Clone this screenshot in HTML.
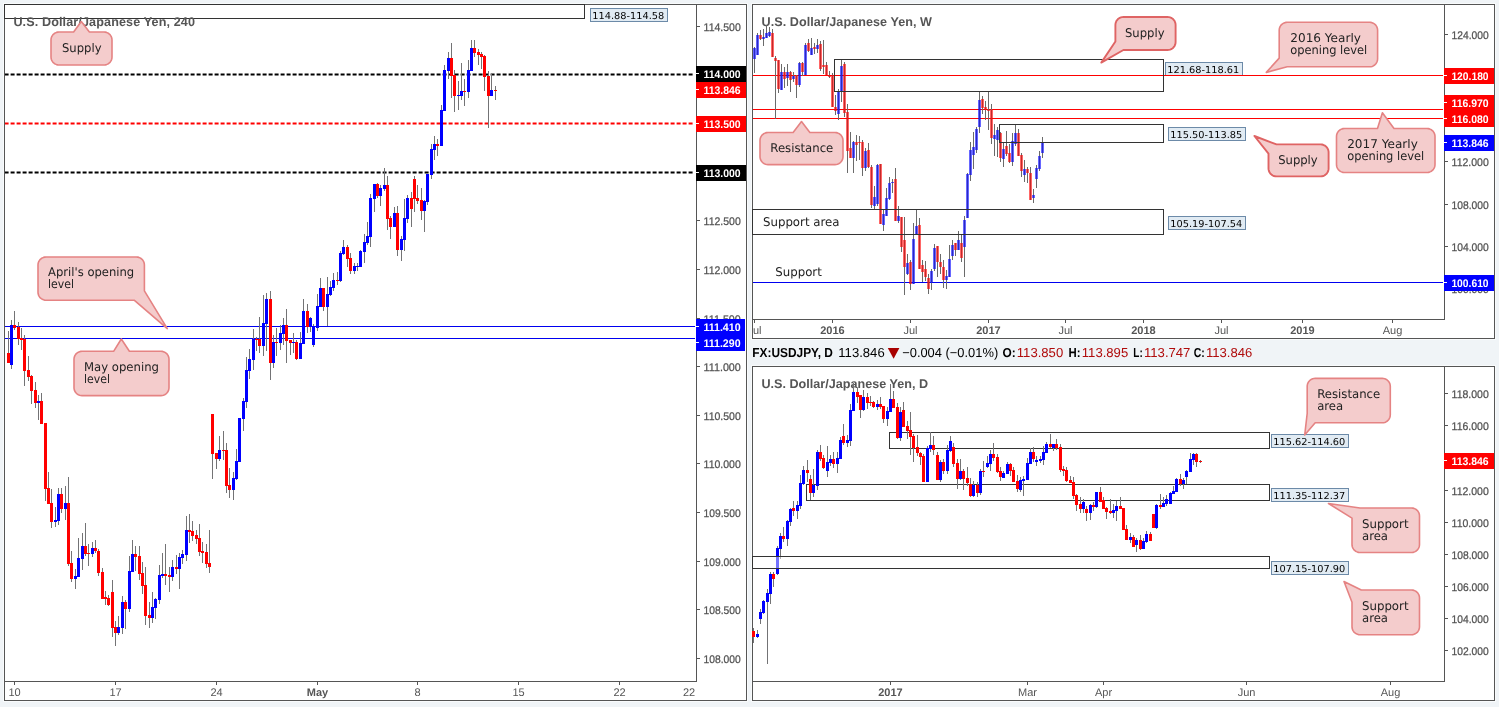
<!DOCTYPE html>
<html lang="en">
<head>
<meta charset="utf-8">
<title>USD/JPY multi-timeframe chart</title>
<style>
html,body{margin:0;padding:0;background:#f0f4f7;}
body{width:1499px;height:707px;overflow:hidden;font-family:"Liberation Sans",Arial,sans-serif;}
svg{display:block;}
</style>
</head>
<body>
<svg width="1499" height="707" viewBox="0 0 1499 707" shape-rendering="crispEdges" text-rendering="geometricPrecision">
<rect x="0" y="0" width="1499" height="707" fill="#f0f4f7"/>
<rect x="3" y="3" width="745" height="699" fill="#f9fbfc" stroke="none" stroke-width="1"/>
<rect x="4.5" y="4.5" width="742" height="696" fill="#ffffff" stroke="#555555" stroke-width="1"/>
<line x1="696.5" y1="4" x2="696.5" y2="682" stroke="#555555" stroke-width="1"/>
<line x1="4" y1="681.5" x2="697" y2="681.5" stroke="#555555" stroke-width="1"/>
<rect x="697" y="26" width="3" height="1" fill="#555555" stroke="none" stroke-width="1"/>
<text x="703.6" y="30.5" font-family='"Liberation Sans", Arial, sans-serif' font-size="11" font-weight="normal" fill="#505050" text-anchor="start" textLength="37.2" lengthAdjust="spacingAndGlyphs" stroke="#555" stroke-width="0.25">114.500</text>
<rect x="697" y="75" width="3" height="1" fill="#555555" stroke="none" stroke-width="1"/>
<text x="703.6" y="79.5" font-family='"Liberation Sans", Arial, sans-serif' font-size="11" font-weight="normal" fill="#505050" text-anchor="start" textLength="37.2" lengthAdjust="spacingAndGlyphs" stroke="#555" stroke-width="0.25">114.000</text>
<rect x="697" y="123" width="3" height="1" fill="#555555" stroke="none" stroke-width="1"/>
<text x="703.6" y="127.5" font-family='"Liberation Sans", Arial, sans-serif' font-size="11" font-weight="normal" fill="#505050" text-anchor="start" textLength="37.2" lengthAdjust="spacingAndGlyphs" stroke="#555" stroke-width="0.25">113.500</text>
<rect x="697" y="172" width="3" height="1" fill="#555555" stroke="none" stroke-width="1"/>
<text x="703.6" y="176.5" font-family='"Liberation Sans", Arial, sans-serif' font-size="11" font-weight="normal" fill="#505050" text-anchor="start" textLength="37.2" lengthAdjust="spacingAndGlyphs" stroke="#555" stroke-width="0.25">113.000</text>
<rect x="697" y="220" width="3" height="1" fill="#555555" stroke="none" stroke-width="1"/>
<text x="703.6" y="224.5" font-family='"Liberation Sans", Arial, sans-serif' font-size="11" font-weight="normal" fill="#505050" text-anchor="start" textLength="37.2" lengthAdjust="spacingAndGlyphs" stroke="#555" stroke-width="0.25">112.500</text>
<rect x="697" y="269" width="3" height="1" fill="#555555" stroke="none" stroke-width="1"/>
<text x="703.6" y="273.5" font-family='"Liberation Sans", Arial, sans-serif' font-size="11" font-weight="normal" fill="#505050" text-anchor="start" textLength="37.2" lengthAdjust="spacingAndGlyphs" stroke="#555" stroke-width="0.25">112.000</text>
<rect x="697" y="318" width="3" height="1" fill="#555555" stroke="none" stroke-width="1"/>
<text x="703.6" y="322.5" font-family='"Liberation Sans", Arial, sans-serif' font-size="11" font-weight="normal" fill="#505050" text-anchor="start" textLength="37.2" lengthAdjust="spacingAndGlyphs" stroke="#555" stroke-width="0.25">111.500</text>
<rect x="697" y="366" width="3" height="1" fill="#555555" stroke="none" stroke-width="1"/>
<text x="703.6" y="370.5" font-family='"Liberation Sans", Arial, sans-serif' font-size="11" font-weight="normal" fill="#505050" text-anchor="start" textLength="37.2" lengthAdjust="spacingAndGlyphs" stroke="#555" stroke-width="0.25">111.000</text>
<rect x="697" y="415" width="3" height="1" fill="#555555" stroke="none" stroke-width="1"/>
<text x="703.6" y="419.5" font-family='"Liberation Sans", Arial, sans-serif' font-size="11" font-weight="normal" fill="#505050" text-anchor="start" textLength="37.2" lengthAdjust="spacingAndGlyphs" stroke="#555" stroke-width="0.25">110.500</text>
<rect x="697" y="463" width="3" height="1" fill="#555555" stroke="none" stroke-width="1"/>
<text x="703.6" y="467.5" font-family='"Liberation Sans", Arial, sans-serif' font-size="11" font-weight="normal" fill="#505050" text-anchor="start" textLength="37.2" lengthAdjust="spacingAndGlyphs" stroke="#555" stroke-width="0.25">110.000</text>
<rect x="697" y="512" width="3" height="1" fill="#555555" stroke="none" stroke-width="1"/>
<text x="703.6" y="516.5" font-family='"Liberation Sans", Arial, sans-serif' font-size="11" font-weight="normal" fill="#505050" text-anchor="start" textLength="37.2" lengthAdjust="spacingAndGlyphs" stroke="#555" stroke-width="0.25">109.500</text>
<rect x="697" y="561" width="3" height="1" fill="#555555" stroke="none" stroke-width="1"/>
<text x="703.6" y="565.5" font-family='"Liberation Sans", Arial, sans-serif' font-size="11" font-weight="normal" fill="#505050" text-anchor="start" textLength="37.2" lengthAdjust="spacingAndGlyphs" stroke="#555" stroke-width="0.25">109.000</text>
<rect x="697" y="609" width="3" height="1" fill="#555555" stroke="none" stroke-width="1"/>
<text x="703.6" y="613.5" font-family='"Liberation Sans", Arial, sans-serif' font-size="11" font-weight="normal" fill="#505050" text-anchor="start" textLength="37.2" lengthAdjust="spacingAndGlyphs" stroke="#555" stroke-width="0.25">108.500</text>
<rect x="697" y="658" width="3" height="1" fill="#555555" stroke="none" stroke-width="1"/>
<text x="703.6" y="662.5" font-family='"Liberation Sans", Arial, sans-serif' font-size="11" font-weight="normal" fill="#505050" text-anchor="start" textLength="37.2" lengthAdjust="spacingAndGlyphs" stroke="#555" stroke-width="0.25">108.000</text>
<rect x="4.5" y="4.5" width="580" height="14" fill="none" stroke="#333" stroke-width="1"/>
<rect x="590.5" y="8.5" width="77" height="13" fill="#e1ebf3" stroke="#6c8aa8" stroke-width="1"/>
<text x="592.3" y="19.1" font-family='"DejaVu Sans", Verdana, "Liberation Sans", sans-serif' font-size="9.6" font-weight="normal" fill="#000" text-anchor="start" textLength="72.0" lengthAdjust="spacingAndGlyphs">114.88-114.58</text>
<text x="13.4" y="26.0" font-family='"Liberation Sans", Arial, sans-serif' font-size="12.6" font-weight="bold" fill="#555" text-anchor="start" textLength="181.6" lengthAdjust="spacing">U.S. Dollar/Japanese Yen, 240</text>
<line x1="5" y1="74.4" x2="693" y2="74.4" stroke="#000" stroke-width="2" stroke-dasharray="4,2" stroke-dashoffset="0.4" shape-rendering="geometricPrecision"/>
<line x1="5" y1="123.4" x2="693" y2="123.4" stroke="#ff0000" stroke-width="2" stroke-dasharray="4,2" stroke-dashoffset="0.4" shape-rendering="geometricPrecision"/>
<line x1="5" y1="172.4" x2="693" y2="172.4" stroke="#000" stroke-width="2" stroke-dasharray="4,2" stroke-dashoffset="0.4" shape-rendering="geometricPrecision"/>
<rect x="5" y="326" width="690" height="1" fill="#0000f0" stroke="none" stroke-width="1"/>
<rect x="5" y="338" width="690" height="1" fill="#0000f0" stroke="none" stroke-width="1"/>
<path d="M8.5,331V363M11.5,320V369M14.5,311V330M18.5,322V345M21.5,328V350M24.5,335V386M28.5,356V381M31.5,375V404M35.5,382V408M38.5,395V420M41.5,393V424M45.5,423V501M48.5,472V504M51.5,489V528M55.5,507V527M58.5,488V525M61.5,488V513M65.5,486V520M68.5,477V566M71.5,551V582M75.5,569V589M78.5,538V577M82.5,533V570M85.5,523V556M88.5,544V566M92.5,542V557M95.5,540V553M98.5,549V576M102.5,568V599M105.5,591V605M108.5,595V606M112.5,580V637M115.5,621V646M118.5,616V635M122.5,596V634M125.5,600V629M129.5,556V612M132.5,540V572M135.5,546V571M139.5,546V580M142.5,562V594M145.5,567V625M149.5,602V628M152.5,592V623M155.5,598V619M159.5,565V604M162.5,553V578M165.5,544V585M169.5,567V592M172.5,560V581M176.5,555V574M179.5,553V589M182.5,550V564M186.5,516V561M189.5,514V543M192.5,521V541M196.5,530V544M199.5,524V556M202.5,542V563M206.5,544V568M209.5,530V573M212.5,414V479M216.5,453V469M219.5,436V461M223.5,431V460M226.5,443V493M229.5,468V498M233.5,472V500M236.5,449V480M239.5,418V462M243.5,398V431M246.5,357V408M249.5,349V379M253.5,329V370M256.5,337V351M259.5,317V353M263.5,295V356M266.5,293V351M270.5,291V380M273.5,335V368M276.5,328V356M280.5,325V350M283.5,318V345M286.5,309V363M290.5,340V355M293.5,333V353M296.5,340V360M300.5,332V359M303.5,299V344M307.5,304V333M310.5,317V332M313.5,324V347M317.5,294V331M320.5,278V307M323.5,288V311M327.5,277V326M330.5,281V296M333.5,273V291M337.5,272V285M340.5,251V282M343.5,240V255M347.5,245V267M350.5,253V274M354.5,263V274M357.5,263V271M360.5,250V267M364.5,234V263M367.5,222V245M370.5,194V247M374.5,184V212M377.5,183V198M380.5,185V206M384.5,168V191M387.5,176V230M390.5,216V239M394.5,207V227M397.5,206V256M401.5,236V261M404.5,199V251M407.5,195V223M411.5,192V227M414.5,176V212M417.5,185V204M421.5,188V220M424.5,200V232M427.5,174V205M431.5,144V179M434.5,136V160M437.5,139V156M441.5,105V146M444.5,65V111M448.5,52V79M451.5,43V98M454.5,70V112M458.5,81V110M461.5,63V100M464.5,79V106M468.5,60V98M471.5,40V71M474.5,40V57M478.5,49V65M481.5,52V69M484.5,55V91M488.5,71V128M491.5,74V96M495.5,86V100" stroke="#737375" stroke-width="1" fill="none"/>
<path d="M10,325h3V365h-3ZM37,401h3V403h-3ZM54,520h3V522h-3ZM57,494h3V521h-3ZM64,503h3V509h-3ZM74,576h3V579h-3ZM77,558h3V577h-3ZM81,546h3V559h-3ZM91,548h3V554h-3ZM117,627h3V633h-3ZM121,602h3V628h-3ZM128,571h3V609h-3ZM131,554h3V572h-3ZM151,607h3V618h-3ZM154,599h3V608h-3ZM158,575h3V600h-3ZM161,574h3V576h-3ZM171,567h3V577h-3ZM178,557h3V569h-3ZM181,554h3V558h-3ZM185,530h3V555h-3ZM218,450h3V459h-3ZM232,478h3V490h-3ZM235,461h3V479h-3ZM238,418h3V462h-3ZM242,401h3V419h-3ZM245,370h3V402h-3ZM248,359h3V371h-3ZM252,339h3V360h-3ZM262,323h3V346h-3ZM265,299h3V324h-3ZM272,342h3V363h-3ZM279,333h3V343h-3ZM282,325h3V334h-3ZM292,342h3V343h-3ZM299,343h3V359h-3ZM302,311h3V344h-3ZM309,318h3V327h-3ZM312,326h3V345h-3ZM316,306h3V328h-3ZM319,288h3V307h-3ZM326,294h3V307h-3ZM329,287h3V295h-3ZM332,280h3V288h-3ZM339,253h3V281h-3ZM342,247h3V254h-3ZM353,266h3V271h-3ZM356,266h3V267h-3ZM359,251h3V267h-3ZM363,242h3V252h-3ZM366,236h3V243h-3ZM369,198h3V237h-3ZM373,184h3V199h-3ZM379,188h3V196h-3ZM383,185h3V189h-3ZM393,213h3V227h-3ZM400,239h3V250h-3ZM403,218h3V240h-3ZM406,198h3V219h-3ZM423,201h3V211h-3ZM426,174h3V202h-3ZM430,149h3V175h-3ZM433,144h3V150h-3ZM440,110h3V146h-3ZM443,70h3V111h-3ZM447,58h3V71h-3ZM457,95h3V96h-3ZM460,91h3V96h-3ZM467,70h3V92h-3ZM470,48h3V71h-3ZM490,90h3V96h-3Z" fill="#0000ff"/>
<path d="M7,353h3V363h-3ZM13,325h3V328h-3ZM17,327h3V339h-3ZM20,338h3V340h-3ZM23,339h3V371h-3ZM27,370h3V377h-3ZM30,376h3V391h-3ZM34,390h3V403h-3ZM40,401h3V424h-3ZM44,423h3V489h-3ZM47,488h3V504h-3ZM50,503h3V522h-3ZM60,494h3V509h-3ZM67,503h3V564h-3ZM70,563h3V579h-3ZM84,546h3V554h-3ZM87,553h3V554h-3ZM94,548h3V551h-3ZM97,551h3V573h-3ZM101,572h3V599h-3ZM104,597h3V599h-3ZM107,598h3V605h-3ZM111,592h3V628h-3ZM114,627h3V633h-3ZM124,602h3V609h-3ZM134,554h3V557h-3ZM138,556h3V574h-3ZM141,573h3V586h-3ZM144,585h3V616h-3ZM148,615h3V618h-3ZM164,574h3V576h-3ZM168,575h3V577h-3ZM175,567h3V569h-3ZM188,530h3V532h-3ZM191,531h3V536h-3ZM195,535h3V539h-3ZM198,538h3V552h-3ZM201,551h3V553h-3ZM205,552h3V564h-3ZM208,563h3V567h-3ZM211,414h3V454h-3ZM215,453h3V459h-3ZM222,450h3V451h-3ZM225,450h3V486h-3ZM228,485h3V490h-3ZM255,339h3V340h-3ZM258,339h3V346h-3ZM269,299h3V363h-3ZM275,342h3V343h-3ZM285,325h3V341h-3ZM289,340h3V343h-3ZM295,342h3V359h-3ZM306,311h3V327h-3ZM322,288h3V307h-3ZM336,280h3V281h-3ZM346,247h3V259h-3ZM349,258h3V271h-3ZM376,184h3V196h-3ZM386,185h3V219h-3ZM389,218h3V227h-3ZM396,213h3V250h-3ZM410,198h3V209h-3ZM413,179h3V199h-3ZM416,198h3V201h-3ZM420,200h3V211h-3ZM436,144h3V146h-3ZM450,58h3V76h-3ZM453,75h3V96h-3ZM463,91h3V92h-3ZM473,48h3V53h-3ZM477,52h3V55h-3ZM480,54h3V57h-3ZM483,56h3V77h-3ZM487,76h3V96h-3ZM494,90h3V91h-3Z" fill="#ff0000"/>
<rect x="696" y="66" width="50" height="16" fill="#000" stroke="none" stroke-width="1"/>
<rect x="696" y="73" width="3" height="1" fill="#fff" stroke="none" stroke-width="1"/>
<text x="703.4" y="77.5" font-family='"Liberation Sans", Arial, sans-serif' font-size="11" font-weight="bold" fill="#fff" text-anchor="start" textLength="37.2" lengthAdjust="spacingAndGlyphs">114.000</text>
<rect x="696" y="82" width="50" height="16" fill="#ff0000" stroke="none" stroke-width="1"/>
<rect x="696" y="89" width="3" height="1" fill="#fff" stroke="none" stroke-width="1"/>
<text x="703.4" y="93.5" font-family='"Liberation Sans", Arial, sans-serif' font-size="11" font-weight="bold" fill="#fff" text-anchor="start" textLength="37.2" lengthAdjust="spacingAndGlyphs">113.846</text>
<rect x="696" y="116" width="50" height="16" fill="#ff0000" stroke="none" stroke-width="1"/>
<rect x="696" y="123" width="3" height="1" fill="#fff" stroke="none" stroke-width="1"/>
<text x="703.4" y="127.5" font-family='"Liberation Sans", Arial, sans-serif' font-size="11" font-weight="bold" fill="#fff" text-anchor="start" textLength="37.2" lengthAdjust="spacingAndGlyphs">113.500</text>
<rect x="696" y="165" width="50" height="16" fill="#000" stroke="none" stroke-width="1"/>
<rect x="696" y="172" width="3" height="1" fill="#fff" stroke="none" stroke-width="1"/>
<text x="703.4" y="176.5" font-family='"Liberation Sans", Arial, sans-serif' font-size="11" font-weight="bold" fill="#fff" text-anchor="start" textLength="37.2" lengthAdjust="spacingAndGlyphs">113.000</text>
<rect x="696" y="319" width="49" height="16" fill="#0000ff" stroke="none" stroke-width="1"/>
<rect x="696" y="326" width="3" height="1" fill="#fff" stroke="none" stroke-width="1"/>
<text x="703.4" y="330.5" font-family='"Liberation Sans", Arial, sans-serif' font-size="11" font-weight="bold" fill="#fff" text-anchor="start" textLength="37.2" lengthAdjust="spacingAndGlyphs">111.410</text>
<rect x="696" y="335" width="49" height="16" fill="#0000ff" stroke="none" stroke-width="1"/>
<rect x="696" y="342" width="3" height="1" fill="#fff" stroke="none" stroke-width="1"/>
<text x="703.4" y="346.5" font-family='"Liberation Sans", Arial, sans-serif' font-size="11" font-weight="bold" fill="#fff" text-anchor="start" textLength="37.2" lengthAdjust="spacingAndGlyphs">111.290</text>
<rect x="14" y="682" width="1" height="3" fill="#555555" stroke="none" stroke-width="1"/>
<text x="14.5" y="696.0" font-family='"Liberation Sans", Arial, sans-serif' font-size="11" font-weight="normal" fill="#555" text-anchor="middle">10</text>
<rect x="115" y="682" width="1" height="3" fill="#555555" stroke="none" stroke-width="1"/>
<text x="115.5" y="696.0" font-family='"Liberation Sans", Arial, sans-serif' font-size="11" font-weight="normal" fill="#555" text-anchor="middle">17</text>
<rect x="216" y="682" width="1" height="3" fill="#555555" stroke="none" stroke-width="1"/>
<text x="216.5" y="696.0" font-family='"Liberation Sans", Arial, sans-serif' font-size="11" font-weight="normal" fill="#555" text-anchor="middle">24</text>
<rect x="317" y="682" width="1" height="3" fill="#555555" stroke="none" stroke-width="1"/>
<text x="317.5" y="696.0" font-family='"Liberation Sans", Arial, sans-serif' font-size="11" font-weight="bold" fill="#555" text-anchor="middle">May</text>
<rect x="417" y="682" width="1" height="3" fill="#555555" stroke="none" stroke-width="1"/>
<text x="417.5" y="696.0" font-family='"Liberation Sans", Arial, sans-serif' font-size="11" font-weight="normal" fill="#555" text-anchor="middle">8</text>
<rect x="518" y="682" width="1" height="3" fill="#555555" stroke="none" stroke-width="1"/>
<text x="518.5" y="696.0" font-family='"Liberation Sans", Arial, sans-serif' font-size="11" font-weight="normal" fill="#555" text-anchor="middle">15</text>
<rect x="619" y="682" width="1" height="3" fill="#555555" stroke="none" stroke-width="1"/>
<text x="619.5" y="696.0" font-family='"Liberation Sans", Arial, sans-serif' font-size="11" font-weight="normal" fill="#555" text-anchor="middle">22</text>
<text x="689.0" y="696.0" font-family='"Liberation Sans", Arial, sans-serif' font-size="11" font-weight="normal" fill="#555" text-anchor="middle">22</text>
<path d="M89.38,32.00 L90.50,32.00 L91.62,32.00 L92.75,32.00 L93.88,32.00 L95.00,32.00 L96.12,32.00 L97.25,32.00 L98.38,32.00 L99.50,32.00 L100.62,32.00 L101.75,32.00 L102.88,32.00 L104.00,32.00 L105.25,32.10 L106.47,32.39 L107.63,32.87 L108.70,33.53 L109.66,34.34 L110.47,35.30 L111.13,36.37 L111.61,37.53 L111.90,38.75 L112.00,40.00 L112.00,40.42 L112.00,40.85 L112.00,41.27 L112.00,41.70 L112.00,42.12 L112.00,42.55 L112.00,42.98 L112.00,43.40 L112.00,43.83 L112.00,44.25 L112.00,44.67 L112.00,45.10 L112.00,45.52 L112.00,45.95 L112.00,46.38 L112.00,46.80 L112.00,47.23 L112.00,47.65 L112.00,48.08 L112.00,48.50 L112.00,48.92 L112.00,49.35 L112.00,49.77 L112.00,50.20 L112.00,50.62 L112.00,51.05 L112.00,51.48 L112.00,51.90 L112.00,52.33 L112.00,52.75 L112.00,53.17 L112.00,53.60 L112.00,54.02 L112.00,54.45 L112.00,54.88 L112.00,55.30 L112.00,55.73 L112.00,56.15 L112.00,56.58 L112.00,57.00 L111.90,58.25 L111.61,59.47 L111.13,60.63 L110.47,61.70 L109.66,62.66 L108.70,63.47 L107.63,64.13 L106.47,64.61 L105.25,64.90 L104.00,65.00 L102.88,65.00 L101.75,65.00 L100.62,65.00 L99.50,65.00 L98.38,65.00 L97.25,65.00 L96.12,65.00 L95.00,65.00 L93.88,65.00 L92.75,65.00 L91.62,65.00 L90.50,65.00 L89.38,65.00 L88.25,65.00 L87.12,65.00 L86.00,65.00 L84.88,65.00 L83.75,65.00 L82.62,65.00 L81.50,65.00 L80.38,65.00 L79.25,65.00 L78.12,65.00 L77.00,65.00 L75.88,65.00 L74.75,65.00 L73.62,65.00 L72.50,65.00 L71.38,65.00 L70.25,65.00 L69.12,65.00 L68.00,65.00 L66.88,65.00 L65.75,65.00 L64.62,65.00 L63.50,65.00 L62.38,65.00 L61.25,65.00 L60.12,65.00 L59.00,65.00 L57.75,64.90 L56.53,64.61 L55.37,64.13 L54.30,63.47 L53.34,62.66 L52.53,61.70 L51.87,60.63 L51.39,59.47 L51.10,58.25 L51.00,57.00 L51.00,56.58 L51.00,56.15 L51.00,55.73 L51.00,55.30 L51.00,54.88 L51.00,54.45 L51.00,54.02 L51.00,53.60 L51.00,53.17 L51.00,52.75 L51.00,52.33 L51.00,51.90 L51.00,51.48 L51.00,51.05 L51.00,50.62 L51.00,50.20 L51.00,49.77 L51.00,49.35 L51.00,48.92 L51.00,48.50 L51.00,48.08 L51.00,47.65 L51.00,47.23 L51.00,46.80 L51.00,46.38 L51.00,45.95 L51.00,45.52 L51.00,45.10 L51.00,44.67 L51.00,44.25 L51.00,43.83 L51.00,43.40 L51.00,42.98 L51.00,42.55 L51.00,42.12 L51.00,41.70 L51.00,41.27 L51.00,40.85 L51.00,40.42 L51.00,40.00 L51.10,38.75 L51.39,37.53 L51.87,36.37 L52.53,35.30 L53.34,34.34 L54.30,33.53 L55.37,32.87 L56.53,32.39 L57.75,32.10 L59.00,32.00 L60.12,32.00 L61.25,32.00 L62.38,32.00 L63.50,32.00 L64.62,32.00 L65.75,32.00 L66.88,32.00 L68.00,32.00 L69.12,32.00 L70.25,32.00 L71.38,32.00 L72.50,32.00 L73.62,32.00 L81.30,21.50 Z" fill="#f4cccc" stroke="#e58383" stroke-width="1.6" stroke-linejoin="round" shape-rendering="geometricPrecision"/>
<text x="62.0" y="51.6" font-family='"DejaVu Sans", Verdana, "Liberation Sans", sans-serif' font-size="12" font-weight="normal" fill="#222" text-anchor="start" textLength="39.5" lengthAdjust="spacingAndGlyphs">Supply</text>
<path d="M134.14,300.20 L131.88,300.20 L129.62,300.20 L127.36,300.20 L125.10,300.20 L122.84,300.20 L120.58,300.20 L118.32,300.20 L116.06,300.20 L113.80,300.20 L111.54,300.20 L109.28,300.20 L107.02,300.20 L104.76,300.20 L102.50,300.20 L100.24,300.20 L97.98,300.20 L95.72,300.20 L93.46,300.20 L91.20,300.20 L88.94,300.20 L86.68,300.20 L84.42,300.20 L82.16,300.20 L79.90,300.20 L77.64,300.20 L75.38,300.20 L73.12,300.20 L70.86,300.20 L68.60,300.20 L66.34,300.20 L64.08,300.20 L61.82,300.20 L59.56,300.20 L57.30,300.20 L55.04,300.20 L52.78,300.20 L50.52,300.20 L48.26,300.20 L46.00,300.20 L44.75,300.10 L43.53,299.81 L42.37,299.33 L41.30,298.67 L40.34,297.86 L39.53,296.90 L38.87,295.83 L38.39,294.67 L38.10,293.45 L38.00,292.20 L38.00,291.52 L38.00,290.84 L38.00,290.16 L38.00,289.48 L38.00,288.80 L38.00,288.12 L38.00,287.44 L38.00,286.76 L38.00,286.08 L38.00,285.40 L38.00,284.72 L38.00,284.04 L38.00,283.36 L38.00,282.68 L38.00,282.00 L38.00,281.32 L38.00,280.64 L38.00,279.96 L38.00,279.28 L38.00,278.60 L38.00,277.92 L38.00,277.24 L38.00,276.56 L38.00,275.88 L38.00,275.20 L38.00,274.52 L38.00,273.84 L38.00,273.16 L38.00,272.48 L38.00,271.80 L38.00,271.12 L38.00,270.44 L38.00,269.76 L38.00,269.08 L38.00,268.40 L38.00,267.72 L38.00,267.04 L38.00,266.36 L38.00,265.68 L38.00,265.00 L38.10,263.75 L38.39,262.53 L38.87,261.37 L39.53,260.30 L40.34,259.34 L41.30,258.53 L42.37,257.87 L43.53,257.39 L44.75,257.10 L46.00,257.00 L48.26,257.00 L50.52,257.00 L52.78,257.00 L55.04,257.00 L57.30,257.00 L59.56,257.00 L61.82,257.00 L64.08,257.00 L66.34,257.00 L68.60,257.00 L70.86,257.00 L73.12,257.00 L75.38,257.00 L77.64,257.00 L79.90,257.00 L82.16,257.00 L84.42,257.00 L86.68,257.00 L88.94,257.00 L91.20,257.00 L93.46,257.00 L95.72,257.00 L97.98,257.00 L100.24,257.00 L102.50,257.00 L104.76,257.00 L107.02,257.00 L109.28,257.00 L111.54,257.00 L113.80,257.00 L116.06,257.00 L118.32,257.00 L120.58,257.00 L122.84,257.00 L125.10,257.00 L127.36,257.00 L129.62,257.00 L131.88,257.00 L134.14,257.00 L136.40,257.00 L137.65,257.10 L138.87,257.39 L140.03,257.87 L141.10,258.53 L142.06,259.34 L142.87,260.30 L143.53,261.37 L144.01,262.53 L144.30,263.75 L144.40,265.00 L144.40,265.68 L144.40,266.36 L144.40,267.04 L144.40,267.72 L144.40,268.40 L144.40,269.08 L144.40,269.76 L144.40,270.44 L144.40,271.12 L144.40,271.80 L144.40,272.48 L144.40,273.16 L144.40,273.84 L144.40,274.52 L144.40,275.20 L144.40,275.88 L144.40,276.56 L144.40,277.24 L144.40,277.92 L144.40,278.60 L144.40,279.28 L144.40,279.96 L144.40,280.64 L144.40,281.32 L144.40,282.00 L144.40,282.68 L144.40,283.36 L144.40,284.04 L144.40,284.72 L144.40,285.40 L144.40,286.08 L144.40,286.76 L144.40,287.44 L144.40,288.12 L144.40,288.80 L144.40,289.48 L144.40,290.16 L144.40,290.84 L167.30,328.60 Z" fill="#f4cccc" stroke="#e58383" stroke-width="1.6" stroke-linejoin="round" shape-rendering="geometricPrecision"/>
<text x="48.0" y="276.0" font-family='"DejaVu Sans", Verdana, "Liberation Sans", sans-serif' font-size="12" font-weight="normal" fill="#222" text-anchor="start" textLength="86.2" lengthAdjust="spacingAndGlyphs">April's opening</text>
<text x="48.0" y="288.0" font-family='"DejaVu Sans", Verdana, "Liberation Sans", sans-serif' font-size="12" font-weight="normal" fill="#222" text-anchor="start" textLength="26.0" lengthAdjust="spacingAndGlyphs">level</text>
<path d="M129.40,351.30 L131.38,351.30 L133.35,351.30 L135.32,351.30 L137.30,351.30 L139.28,351.30 L141.25,351.30 L143.22,351.30 L145.20,351.30 L147.18,351.30 L149.15,351.30 L151.12,351.30 L153.10,351.30 L155.07,351.30 L157.05,351.30 L159.03,351.30 L161.00,351.30 L162.25,351.40 L163.47,351.69 L164.63,352.17 L165.70,352.83 L166.66,353.64 L167.47,354.60 L168.13,355.67 L168.61,356.83 L168.90,358.05 L169.00,359.30 L169.00,360.01 L169.00,360.72 L169.00,361.42 L169.00,362.13 L169.00,362.84 L169.00,363.55 L169.00,364.25 L169.00,364.96 L169.00,365.67 L169.00,366.38 L169.00,367.08 L169.00,367.79 L169.00,368.50 L169.00,369.21 L169.00,369.91 L169.00,370.62 L169.00,371.33 L169.00,372.04 L169.00,372.74 L169.00,373.45 L169.00,374.16 L169.00,374.87 L169.00,375.57 L169.00,376.28 L169.00,376.99 L169.00,377.69 L169.00,378.40 L169.00,379.11 L169.00,379.82 L169.00,380.53 L169.00,381.23 L169.00,381.94 L169.00,382.65 L169.00,383.36 L169.00,384.06 L169.00,384.77 L169.00,385.48 L169.00,386.19 L169.00,386.89 L169.00,387.60 L168.90,388.85 L168.61,390.07 L168.13,391.23 L167.47,392.30 L166.66,393.26 L165.70,394.07 L164.63,394.73 L163.47,395.21 L162.25,395.50 L161.00,395.60 L159.03,395.60 L157.05,395.60 L155.07,395.60 L153.10,395.60 L151.12,395.60 L149.15,395.60 L147.18,395.60 L145.20,395.60 L143.22,395.60 L141.25,395.60 L139.28,395.60 L137.30,395.60 L135.32,395.60 L133.35,395.60 L131.38,395.60 L129.40,395.60 L127.42,395.60 L125.45,395.60 L123.47,395.60 L121.50,395.60 L119.53,395.60 L117.55,395.60 L115.58,395.60 L113.60,395.60 L111.62,395.60 L109.65,395.60 L107.67,395.60 L105.70,395.60 L103.72,395.60 L101.75,395.60 L99.78,395.60 L97.80,395.60 L95.83,395.60 L93.85,395.60 L91.88,395.60 L89.90,395.60 L87.92,395.60 L85.95,395.60 L83.97,395.60 L82.00,395.60 L80.75,395.50 L79.53,395.21 L78.37,394.73 L77.30,394.07 L76.34,393.26 L75.53,392.30 L74.87,391.23 L74.39,390.07 L74.10,388.85 L74.00,387.60 L74.00,386.89 L74.00,386.19 L74.00,385.48 L74.00,384.77 L74.00,384.06 L74.00,383.36 L74.00,382.65 L74.00,381.94 L74.00,381.23 L74.00,380.53 L74.00,379.82 L74.00,379.11 L74.00,378.40 L74.00,377.69 L74.00,376.99 L74.00,376.28 L74.00,375.57 L74.00,374.87 L74.00,374.16 L74.00,373.45 L74.00,372.74 L74.00,372.04 L74.00,371.33 L74.00,370.62 L74.00,369.91 L74.00,369.21 L74.00,368.50 L74.00,367.79 L74.00,367.08 L74.00,366.38 L74.00,365.67 L74.00,364.96 L74.00,364.25 L74.00,363.55 L74.00,362.84 L74.00,362.13 L74.00,361.42 L74.00,360.72 L74.00,360.01 L74.00,359.30 L74.10,358.05 L74.39,356.83 L74.87,355.67 L75.53,354.60 L76.34,353.64 L77.30,352.83 L78.37,352.17 L79.53,351.69 L80.75,351.40 L82.00,351.30 L83.97,351.30 L85.95,351.30 L87.92,351.30 L89.90,351.30 L91.88,351.30 L93.85,351.30 L95.83,351.30 L97.80,351.30 L99.78,351.30 L101.75,351.30 L103.72,351.30 L105.70,351.30 L107.67,351.30 L109.65,351.30 L111.62,351.30 L113.60,351.30 L121.30,339.00 Z" fill="#f4cccc" stroke="#e58383" stroke-width="1.6" stroke-linejoin="round" shape-rendering="geometricPrecision"/>
<text x="84.0" y="371.0" font-family='"DejaVu Sans", Verdana, "Liberation Sans", sans-serif' font-size="12" font-weight="normal" fill="#222" text-anchor="start" textLength="75.0" lengthAdjust="spacingAndGlyphs">May opening</text>
<text x="84.0" y="383.0" font-family='"DejaVu Sans", Verdana, "Liberation Sans", sans-serif' font-size="12" font-weight="normal" fill="#222" text-anchor="start" textLength="26.0" lengthAdjust="spacingAndGlyphs">level</text>
<rect x="751" y="3" width="745" height="337" fill="#f9fbfc" stroke="none" stroke-width="1"/>
<rect x="752.5" y="4.5" width="742" height="334" fill="#ffffff" stroke="#555555" stroke-width="1"/>
<line x1="1444.5" y1="4" x2="1444.5" y2="320" stroke="#555555" stroke-width="1"/>
<line x1="752" y1="319.5" x2="1445" y2="319.5" stroke="#555555" stroke-width="1"/>
<rect x="1445" y="34" width="3" height="1" fill="#555555" stroke="none" stroke-width="1"/>
<text x="1451.6" y="38.5" font-family='"Liberation Sans", Arial, sans-serif' font-size="11" font-weight="normal" fill="#505050" text-anchor="start" textLength="37.2" lengthAdjust="spacingAndGlyphs" stroke="#555" stroke-width="0.25">124.000</text>
<rect x="1445" y="161" width="3" height="1" fill="#555555" stroke="none" stroke-width="1"/>
<text x="1451.6" y="165.5" font-family='"Liberation Sans", Arial, sans-serif' font-size="11" font-weight="normal" fill="#505050" text-anchor="start" textLength="37.2" lengthAdjust="spacingAndGlyphs" stroke="#555" stroke-width="0.25">112.000</text>
<rect x="1445" y="204" width="3" height="1" fill="#555555" stroke="none" stroke-width="1"/>
<text x="1451.6" y="208.5" font-family='"Liberation Sans", Arial, sans-serif' font-size="11" font-weight="normal" fill="#505050" text-anchor="start" textLength="37.2" lengthAdjust="spacingAndGlyphs" stroke="#555" stroke-width="0.25">108.000</text>
<rect x="1445" y="246" width="3" height="1" fill="#555555" stroke="none" stroke-width="1"/>
<text x="1451.6" y="250.5" font-family='"Liberation Sans", Arial, sans-serif' font-size="11" font-weight="normal" fill="#505050" text-anchor="start" textLength="37.2" lengthAdjust="spacingAndGlyphs" stroke="#555" stroke-width="0.25">104.000</text>
<rect x="1445" y="288" width="3" height="1" fill="#555555" stroke="none" stroke-width="1"/>
<text x="1451.6" y="292.5" font-family='"Liberation Sans", Arial, sans-serif' font-size="11" font-weight="normal" fill="#505050" text-anchor="start" textLength="37.2" lengthAdjust="spacingAndGlyphs" stroke="#555" stroke-width="0.25">100.000</text>
<text x="761.5" y="26.0" font-family='"Liberation Sans", Arial, sans-serif' font-size="12.6" font-weight="bold" fill="#555" text-anchor="start" textLength="170.5" lengthAdjust="spacing">U.S. Dollar/Japanese Yen, W</text>
<rect x="1165.5" y="62.5" width="77" height="13" fill="#e1ebf3" stroke="#6c8aa8" stroke-width="1"/>
<text x="1167.3" y="73.1" font-family='"DejaVu Sans", Verdana, "Liberation Sans", sans-serif' font-size="9.6" font-weight="normal" fill="#000" text-anchor="start" textLength="72.0" lengthAdjust="spacingAndGlyphs">121.68-118.61</text>
<rect x="753" y="75" width="690" height="1" fill="#ff0000" stroke="none" stroke-width="1"/>
<rect x="753" y="109" width="690" height="1" fill="#ff0000" stroke="none" stroke-width="1"/>
<rect x="753" y="118" width="690" height="1" fill="#ff0000" stroke="none" stroke-width="1"/>
<rect x="753" y="282" width="690" height="1" fill="#0000f0" stroke="none" stroke-width="1"/>
<path d="M754.5,47V73M757.5,33V55M760.5,30V40M763.5,29V46M766.5,25V38M769.5,27V37M772.5,29V57M775.5,56V119M778.5,60V93M781.5,64V90M784.5,67V88M787.5,64V86M790.5,71V92M793.5,72V82M796.5,75V98M799.5,62V87M802.5,62V76M805.5,43V75M808.5,39V52M811.5,38V55M814.5,43V54M817.5,39V53M820.5,41V71M823.5,40V74M826.5,62V75M829.5,71V78M832.5,73V107M835.5,95V115M838.5,89V120M841.5,60V102M844.5,62V117M847.5,104V173M850.5,132V158M853.5,141V173M856.5,135V161M859.5,136V160M862.5,140V176M865.5,148V171M868.5,143V168M871.5,165V208M874.5,186V209M877.5,164V206M880.5,164V224M883.5,210V231M886.5,188V216M889.5,177V200M892.5,179V193M895.5,168V221M898.5,206V223M901.5,217V252M904.5,217V295M907.5,254V275M910.5,260V290M913.5,223V284M916.5,209V234M919.5,218V269M922.5,260V282M925.5,261V281M928.5,274V294M931.5,269V290M934.5,244V271M937.5,246V277M940.5,254V274M943.5,260V288M946.5,270V289M949.5,245V277M952.5,240V260M955.5,243V256M958.5,231V250M961.5,234V262M964.5,216V277M967.5,173V218M970.5,142V181M973.5,132V169M976.5,127V153M979.5,92V133M982.5,96V114M985.5,101V120M988.5,92V130M991.5,104V144M994.5,124V156M997.5,127V157M1000.5,132V162M1003.5,143V167M1006.5,131V156M1009.5,144V163M1012.5,133V166M1015.5,125V146M1018.5,129V156M1021.5,153V177M1024.5,160V182M1027.5,167V183M1030.5,167V200M1033.5,189V203M1036.5,165V188M1039.5,151V171M1042.5,137V158" stroke="#6a6a6a" stroke-width="1" fill="none"/>
<path d="M753,48h3V59h-3ZM756,35h3V55h-3ZM762,37h3V39h-3ZM765,33h3V38h-3ZM768,32h3V36h-3ZM780,72h3V90h-3ZM786,72h3V78h-3ZM792,76h3V79h-3ZM798,63h3V85h-3ZM804,45h3V75h-3ZM810,48h3V55h-3ZM816,45h3V49h-3ZM837,91h3V114h-3ZM840,66h3V92h-3ZM852,142h3V158h-3ZM864,151h3V168h-3ZM873,197h3V206h-3ZM876,165h3V204h-3ZM882,214h3V225h-3ZM885,198h3V216h-3ZM888,183h3V199h-3ZM891,182h3V183h-3ZM897,216h3V221h-3ZM906,263h3V274h-3ZM912,239h3V284h-3ZM915,226h3V234h-3ZM930,271h3V283h-3ZM933,248h3V269h-3ZM945,276h3V280h-3ZM948,259h3V277h-3ZM951,245h3V256h-3ZM957,240h3V250h-3ZM963,220h3V247h-3ZM966,174h3V218h-3ZM969,150h3V175h-3ZM972,147h3V155h-3ZM975,129h3V150h-3ZM978,100h3V127h-3ZM993,135h3V139h-3ZM996,130h3V140h-3ZM1002,149h3V159h-3ZM1011,141h3V162h-3ZM1014,133h3V144h-3ZM1023,169h3V175h-3ZM1032,195h3V198h-3ZM1035,168h3V179h-3ZM1038,156h3V169h-3ZM1041,142h3V153h-3Z" fill="#0000ff" fill-opacity="0.6"/>
<path d="M759,35h3V39h-3ZM771,33h3V57h-3ZM774,58h3V61h-3ZM777,60h3V89h-3ZM783,72h3V79h-3ZM789,72h3V80h-3ZM795,76h3V85h-3ZM801,63h3V72h-3ZM807,43h3V51h-3ZM813,47h3V49h-3ZM819,44h3V69h-3ZM822,65h3V67h-3ZM825,65h3V75h-3ZM828,75h3V77h-3ZM831,75h3V107h-3ZM834,107h3V111h-3ZM843,64h3V113h-3ZM846,112h3V151h-3ZM849,148h3V158h-3ZM855,142h3V145h-3ZM858,142h3V143h-3ZM861,142h3V168h-3ZM867,150h3V167h-3ZM870,167h3V205h-3ZM879,164h3V224h-3ZM894,179h3V221h-3ZM900,217h3V247h-3ZM903,240h3V267h-3ZM909,262h3V284h-3ZM918,225h3V269h-3ZM921,265h3V272h-3ZM924,269h3V277h-3ZM927,278h3V289h-3ZM936,246h3V262h-3ZM939,262h3V267h-3ZM942,267h3V280h-3ZM954,243h3V250h-3ZM960,243h3V258h-3ZM981,99h3V108h-3ZM984,107h3V110h-3ZM987,110h3V111h-3ZM990,110h3V138h-3ZM999,133h3V158h-3ZM1005,146h3V154h-3ZM1008,153h3V162h-3ZM1017,133h3V156h-3ZM1020,155h3V171h-3ZM1026,169h3V173h-3ZM1029,173h3V200h-3Z" fill="#ff0000" fill-opacity="0.6"/>
<rect x="834.5" y="59.5" width="329" height="32" fill="none" stroke="#333" stroke-width="1"/>
<rect x="999.5" y="124.5" width="164" height="18" fill="none" stroke="#333" stroke-width="1"/>
<rect x="752.5" y="209.5" width="411" height="25" fill="none" stroke="#333" stroke-width="1"/>
<rect x="1168.5" y="127.5" width="77" height="13" fill="#e1ebf3" stroke="#6c8aa8" stroke-width="1"/>
<text x="1170.3" y="138.1" font-family='"DejaVu Sans", Verdana, "Liberation Sans", sans-serif' font-size="9.6" font-weight="normal" fill="#000" text-anchor="start" textLength="72.0" lengthAdjust="spacingAndGlyphs">115.50-113.85</text>
<rect x="1168.5" y="216.5" width="77" height="13" fill="#e1ebf3" stroke="#6c8aa8" stroke-width="1"/>
<text x="1170.3" y="227.1" font-family='"DejaVu Sans", Verdana, "Liberation Sans", sans-serif' font-size="9.6" font-weight="normal" fill="#000" text-anchor="start" textLength="72.0" lengthAdjust="spacingAndGlyphs">105.19-107.54</text>
<rect x="1444" y="68" width="50" height="16" fill="#ff0000" stroke="none" stroke-width="1"/>
<rect x="1444" y="75" width="3" height="1" fill="#fff" stroke="none" stroke-width="1"/>
<text x="1451.4" y="79.5" font-family='"Liberation Sans", Arial, sans-serif' font-size="11" font-weight="bold" fill="#fff" text-anchor="start" textLength="37.2" lengthAdjust="spacingAndGlyphs">120.180</text>
<rect x="1444" y="95" width="50" height="16" fill="#ff0000" stroke="none" stroke-width="1"/>
<rect x="1444" y="102" width="3" height="1" fill="#fff" stroke="none" stroke-width="1"/>
<text x="1451.4" y="106.5" font-family='"Liberation Sans", Arial, sans-serif' font-size="11" font-weight="bold" fill="#fff" text-anchor="start" textLength="37.2" lengthAdjust="spacingAndGlyphs">116.970</text>
<rect x="1444" y="111" width="50" height="16" fill="#ff0000" stroke="none" stroke-width="1"/>
<rect x="1444" y="118" width="3" height="1" fill="#fff" stroke="none" stroke-width="1"/>
<text x="1451.4" y="122.5" font-family='"Liberation Sans", Arial, sans-serif' font-size="11" font-weight="bold" fill="#fff" text-anchor="start" textLength="37.2" lengthAdjust="spacingAndGlyphs">116.080</text>
<rect x="1444" y="135" width="50" height="16" fill="#0000ff" stroke="none" stroke-width="1"/>
<rect x="1444" y="142" width="3" height="1" fill="#fff" stroke="none" stroke-width="1"/>
<text x="1451.4" y="146.5" font-family='"Liberation Sans", Arial, sans-serif' font-size="11" font-weight="bold" fill="#fff" text-anchor="start" textLength="37.2" lengthAdjust="spacingAndGlyphs">113.846</text>
<rect x="1444" y="275" width="50" height="16" fill="#0000ff" stroke="none" stroke-width="1"/>
<rect x="1444" y="282" width="3" height="1" fill="#fff" stroke="none" stroke-width="1"/>
<text x="1451.4" y="286.5" font-family='"Liberation Sans", Arial, sans-serif' font-size="11" font-weight="bold" fill="#fff" text-anchor="start" textLength="37.2" lengthAdjust="spacingAndGlyphs">100.610</text>
<text x="763.0" y="226.0" font-family='"DejaVu Sans", Verdana, "Liberation Sans", sans-serif' font-size="12" font-weight="normal" fill="#222" text-anchor="start" textLength="76.5" lengthAdjust="spacingAndGlyphs">Support area</text>
<text x="775.3" y="276.0" font-family='"DejaVu Sans", Verdana, "Liberation Sans", sans-serif' font-size="12" font-weight="normal" fill="#222" text-anchor="start" textLength="46.5" lengthAdjust="spacingAndGlyphs">Support</text>
<rect x="832" y="320" width="1" height="3" fill="#555555" stroke="none" stroke-width="1"/>
<text x="832.5" y="334.0" font-family='"Liberation Sans", Arial, sans-serif' font-size="11" font-weight="bold" fill="#555" text-anchor="middle">2016</text>
<rect x="910" y="320" width="1" height="3" fill="#555555" stroke="none" stroke-width="1"/>
<text x="910.5" y="334.0" font-family='"Liberation Sans", Arial, sans-serif' font-size="11" font-weight="normal" fill="#555" text-anchor="middle">Jul</text>
<rect x="988" y="320" width="1" height="3" fill="#555555" stroke="none" stroke-width="1"/>
<text x="988.5" y="334.0" font-family='"Liberation Sans", Arial, sans-serif' font-size="11" font-weight="bold" fill="#555" text-anchor="middle">2017</text>
<rect x="1065" y="320" width="1" height="3" fill="#555555" stroke="none" stroke-width="1"/>
<text x="1065.5" y="334.0" font-family='"Liberation Sans", Arial, sans-serif' font-size="11" font-weight="normal" fill="#555" text-anchor="middle">Jul</text>
<rect x="1143" y="320" width="1" height="3" fill="#555555" stroke="none" stroke-width="1"/>
<text x="1143.5" y="334.0" font-family='"Liberation Sans", Arial, sans-serif' font-size="11" font-weight="bold" fill="#555" text-anchor="middle">2018</text>
<rect x="1221" y="320" width="1" height="3" fill="#555555" stroke="none" stroke-width="1"/>
<text x="1221.5" y="334.0" font-family='"Liberation Sans", Arial, sans-serif' font-size="11" font-weight="normal" fill="#555" text-anchor="middle">Jul</text>
<rect x="1302" y="320" width="1" height="3" fill="#555555" stroke="none" stroke-width="1"/>
<text x="1302.5" y="334.0" font-family='"Liberation Sans", Arial, sans-serif' font-size="11" font-weight="bold" fill="#555" text-anchor="middle">2019</text>
<rect x="1392" y="320" width="1" height="3" fill="#555555" stroke="none" stroke-width="1"/>
<text x="1392.5" y="334.0" font-family='"Liberation Sans", Arial, sans-serif' font-size="11" font-weight="normal" fill="#555" text-anchor="middle">Aug</text>
<rect x="754" y="320" width="1" height="3" fill="#555555" stroke="none" stroke-width="1"/>
<clipPath id="clipw"><rect x="753" y="320" width="691" height="18"/></clipPath>
<g clip-path="url(#clipw)">
<text x="754.5" y="334.0" font-family='"Liberation Sans", Arial, sans-serif' font-size="11" font-weight="normal" fill="#555" text-anchor="middle">Jul</text>
</g>
<path d="M1115.40,41.58 L1115.40,41.15 L1115.40,40.73 L1115.40,40.30 L1115.40,39.88 L1115.40,39.45 L1115.40,39.02 L1115.40,38.60 L1115.40,38.17 L1115.40,37.75 L1115.40,37.33 L1115.40,36.90 L1115.40,36.48 L1115.40,36.05 L1115.40,35.62 L1115.40,35.20 L1115.40,34.77 L1115.40,34.35 L1115.40,33.92 L1115.40,33.50 L1115.40,33.08 L1115.40,32.65 L1115.40,32.23 L1115.40,31.80 L1115.40,31.38 L1115.40,30.95 L1115.40,30.52 L1115.40,30.10 L1115.40,29.68 L1115.40,29.25 L1115.40,28.82 L1115.40,28.40 L1115.40,27.98 L1115.40,27.55 L1115.40,27.12 L1115.40,26.70 L1115.40,26.27 L1115.40,25.85 L1115.40,25.43 L1115.40,25.00 L1115.50,23.75 L1115.79,22.53 L1116.27,21.37 L1116.93,20.30 L1117.74,19.34 L1118.70,18.53 L1119.77,17.87 L1120.93,17.39 L1122.15,17.10 L1123.40,17.00 L1124.51,17.00 L1125.61,17.00 L1126.72,17.00 L1127.82,17.00 L1128.93,17.00 L1130.03,17.00 L1131.13,17.00 L1132.24,17.00 L1133.35,17.00 L1134.45,17.00 L1135.56,17.00 L1136.66,17.00 L1137.77,17.00 L1138.87,17.00 L1139.97,17.00 L1141.08,17.00 L1142.18,17.00 L1143.29,17.00 L1144.39,17.00 L1145.50,17.00 L1146.61,17.00 L1147.71,17.00 L1148.82,17.00 L1149.92,17.00 L1151.03,17.00 L1152.13,17.00 L1153.23,17.00 L1154.34,17.00 L1155.44,17.00 L1156.55,17.00 L1157.65,17.00 L1158.76,17.00 L1159.87,17.00 L1160.97,17.00 L1162.07,17.00 L1163.18,17.00 L1164.28,17.00 L1165.39,17.00 L1166.49,17.00 L1167.60,17.00 L1168.85,17.10 L1170.07,17.39 L1171.23,17.87 L1172.30,18.53 L1173.26,19.34 L1174.07,20.30 L1174.73,21.37 L1175.21,22.53 L1175.50,23.75 L1175.60,25.00 L1175.60,25.43 L1175.60,25.85 L1175.60,26.27 L1175.60,26.70 L1175.60,27.12 L1175.60,27.55 L1175.60,27.98 L1175.60,28.40 L1175.60,28.82 L1175.60,29.25 L1175.60,29.68 L1175.60,30.10 L1175.60,30.52 L1175.60,30.95 L1175.60,31.38 L1175.60,31.80 L1175.60,32.23 L1175.60,32.65 L1175.60,33.08 L1175.60,33.50 L1175.60,33.92 L1175.60,34.35 L1175.60,34.77 L1175.60,35.20 L1175.60,35.62 L1175.60,36.05 L1175.60,36.48 L1175.60,36.90 L1175.60,37.33 L1175.60,37.75 L1175.60,38.17 L1175.60,38.60 L1175.60,39.02 L1175.60,39.45 L1175.60,39.88 L1175.60,40.30 L1175.60,40.73 L1175.60,41.15 L1175.60,41.58 L1175.60,42.00 L1175.50,43.25 L1175.21,44.47 L1174.73,45.63 L1174.07,46.70 L1173.26,47.66 L1172.30,48.47 L1171.23,49.13 L1170.07,49.61 L1168.85,49.90 L1167.60,50.00 L1166.49,50.00 L1165.39,50.00 L1164.28,50.00 L1163.18,50.00 L1162.07,50.00 L1160.97,50.00 L1159.87,50.00 L1158.76,50.00 L1157.65,50.00 L1156.55,50.00 L1155.44,50.00 L1154.34,50.00 L1153.23,50.00 L1152.13,50.00 L1151.03,50.00 L1149.92,50.00 L1148.82,50.00 L1147.71,50.00 L1146.61,50.00 L1145.50,50.00 L1144.39,50.00 L1143.29,50.00 L1142.18,50.00 L1141.08,50.00 L1139.97,50.00 L1138.87,50.00 L1137.77,50.00 L1136.66,50.00 L1135.56,50.00 L1134.45,50.00 L1133.35,50.00 L1132.24,50.00 L1131.13,50.00 L1130.03,50.00 L1128.93,50.00 L1127.82,50.00 L1126.72,50.00 L1125.61,50.00 L1124.51,50.00 L1123.40,50.00 L1101.30,62.60 Z" fill="#f4cccc" stroke="#df6464" stroke-width="1.9" stroke-linejoin="round" shape-rendering="geometricPrecision"/>
<text x="1125.0" y="37.0" font-family='"DejaVu Sans", Verdana, "Liberation Sans", sans-serif' font-size="12" font-weight="normal" fill="#222" text-anchor="start" textLength="39.5" lengthAdjust="spacingAndGlyphs">Supply</text>
<path d="M1279.20,58.09 L1279.20,57.38 L1279.20,56.66 L1279.20,55.95 L1279.20,55.24 L1279.20,54.52 L1279.20,53.81 L1279.20,53.10 L1279.20,52.39 L1279.20,51.67 L1279.20,50.96 L1279.20,50.25 L1279.20,49.54 L1279.20,48.83 L1279.20,48.11 L1279.20,47.40 L1279.20,46.69 L1279.20,45.98 L1279.20,45.26 L1279.20,44.55 L1279.20,43.84 L1279.20,43.12 L1279.20,42.41 L1279.20,41.70 L1279.20,40.99 L1279.20,40.27 L1279.20,39.56 L1279.20,38.85 L1279.20,38.14 L1279.20,37.42 L1279.20,36.71 L1279.20,36.00 L1279.20,35.29 L1279.20,34.58 L1279.20,33.86 L1279.20,33.15 L1279.20,32.44 L1279.20,31.73 L1279.20,31.01 L1279.20,30.30 L1279.30,29.05 L1279.59,27.83 L1280.07,26.67 L1280.73,25.60 L1281.54,24.64 L1282.50,23.83 L1283.57,23.17 L1284.73,22.69 L1285.95,22.40 L1287.20,22.30 L1289.26,22.30 L1291.32,22.30 L1293.38,22.30 L1295.44,22.30 L1297.50,22.30 L1299.56,22.30 L1301.62,22.30 L1303.68,22.30 L1305.74,22.30 L1307.80,22.30 L1309.86,22.30 L1311.92,22.30 L1313.98,22.30 L1316.04,22.30 L1318.10,22.30 L1320.16,22.30 L1322.22,22.30 L1324.28,22.30 L1326.34,22.30 L1328.40,22.30 L1330.46,22.30 L1332.52,22.30 L1334.58,22.30 L1336.64,22.30 L1338.70,22.30 L1340.76,22.30 L1342.82,22.30 L1344.88,22.30 L1346.94,22.30 L1349.00,22.30 L1351.06,22.30 L1353.12,22.30 L1355.18,22.30 L1357.24,22.30 L1359.30,22.30 L1361.36,22.30 L1363.42,22.30 L1365.48,22.30 L1367.54,22.30 L1369.60,22.30 L1370.85,22.40 L1372.07,22.69 L1373.23,23.17 L1374.30,23.83 L1375.26,24.64 L1376.07,25.60 L1376.73,26.67 L1377.21,27.83 L1377.50,29.05 L1377.60,30.30 L1377.60,31.01 L1377.60,31.73 L1377.60,32.44 L1377.60,33.15 L1377.60,33.86 L1377.60,34.58 L1377.60,35.29 L1377.60,36.00 L1377.60,36.71 L1377.60,37.42 L1377.60,38.14 L1377.60,38.85 L1377.60,39.56 L1377.60,40.27 L1377.60,40.99 L1377.60,41.70 L1377.60,42.41 L1377.60,43.12 L1377.60,43.84 L1377.60,44.55 L1377.60,45.26 L1377.60,45.97 L1377.60,46.69 L1377.60,47.40 L1377.60,48.11 L1377.60,48.83 L1377.60,49.54 L1377.60,50.25 L1377.60,50.96 L1377.60,51.67 L1377.60,52.39 L1377.60,53.10 L1377.60,53.81 L1377.60,54.52 L1377.60,55.24 L1377.60,55.95 L1377.60,56.66 L1377.60,57.38 L1377.60,58.09 L1377.60,58.80 L1377.50,60.05 L1377.21,61.27 L1376.73,62.43 L1376.07,63.50 L1375.26,64.46 L1374.30,65.27 L1373.23,65.93 L1372.07,66.41 L1370.85,66.70 L1369.60,66.80 L1367.54,66.80 L1365.48,66.80 L1363.42,66.80 L1361.36,66.80 L1359.30,66.80 L1357.24,66.80 L1355.18,66.80 L1353.12,66.80 L1351.06,66.80 L1349.00,66.80 L1346.94,66.80 L1344.88,66.80 L1342.82,66.80 L1340.76,66.80 L1338.70,66.80 L1336.64,66.80 L1334.58,66.80 L1332.52,66.80 L1330.46,66.80 L1328.40,66.80 L1326.34,66.80 L1324.28,66.80 L1322.22,66.80 L1320.16,66.80 L1318.10,66.80 L1316.04,66.80 L1313.98,66.80 L1311.92,66.80 L1309.86,66.80 L1307.80,66.80 L1305.74,66.80 L1303.68,66.80 L1301.62,66.80 L1299.56,66.80 L1297.50,66.80 L1295.44,66.80 L1293.38,66.80 L1291.32,66.80 L1289.26,66.80 L1287.20,66.80 L1266.30,72.40 Z" fill="#f4cccc" stroke="#e58383" stroke-width="1.6" stroke-linejoin="round" shape-rendering="geometricPrecision"/>
<text x="1290.3" y="42.0" font-family='"DejaVu Sans", Verdana, "Liberation Sans", sans-serif' font-size="12" font-weight="normal" fill="#222" text-anchor="start" textLength="70.6" lengthAdjust="spacingAndGlyphs">2016 Yearly</text>
<text x="1290.3" y="54.0" font-family='"DejaVu Sans", Verdana, "Liberation Sans", sans-serif' font-size="12" font-weight="normal" fill="#222" text-anchor="start" textLength="77.0" lengthAdjust="spacingAndGlyphs">opening level</text>
<path d="M1276.50,144.40 L1277.60,144.40 L1278.70,144.40 L1279.81,144.40 L1280.91,144.40 L1282.01,144.40 L1283.12,144.40 L1284.22,144.40 L1285.32,144.40 L1286.42,144.40 L1287.53,144.40 L1288.63,144.40 L1289.73,144.40 L1290.83,144.40 L1291.93,144.40 L1293.04,144.40 L1294.14,144.40 L1295.24,144.40 L1296.35,144.40 L1297.45,144.40 L1298.55,144.40 L1299.65,144.40 L1300.75,144.40 L1301.86,144.40 L1302.96,144.40 L1304.06,144.40 L1305.16,144.40 L1306.27,144.40 L1307.37,144.40 L1308.47,144.40 L1309.57,144.40 L1310.68,144.40 L1311.78,144.40 L1312.88,144.40 L1313.98,144.40 L1315.09,144.40 L1316.19,144.40 L1317.29,144.40 L1318.39,144.40 L1319.50,144.40 L1320.60,144.40 L1321.85,144.50 L1323.07,144.79 L1324.23,145.27 L1325.30,145.93 L1326.26,146.74 L1327.07,147.70 L1327.73,148.77 L1328.21,149.93 L1328.50,151.15 L1328.60,152.40 L1328.60,152.80 L1328.60,153.20 L1328.60,153.60 L1328.60,154.00 L1328.60,154.40 L1328.60,154.80 L1328.60,155.20 L1328.60,155.60 L1328.60,156.00 L1328.60,156.40 L1328.60,156.80 L1328.60,157.20 L1328.60,157.60 L1328.60,158.00 L1328.60,158.40 L1328.60,158.80 L1328.60,159.20 L1328.60,159.60 L1328.60,160.00 L1328.60,160.40 L1328.60,160.80 L1328.60,161.20 L1328.60,161.60 L1328.60,162.00 L1328.60,162.40 L1328.60,162.80 L1328.60,163.20 L1328.60,163.60 L1328.60,164.00 L1328.60,164.40 L1328.60,164.80 L1328.60,165.20 L1328.60,165.60 L1328.60,166.00 L1328.60,166.40 L1328.60,166.80 L1328.60,167.20 L1328.60,167.60 L1328.60,168.00 L1328.60,168.40 L1328.50,169.65 L1328.21,170.87 L1327.73,172.03 L1327.07,173.10 L1326.26,174.06 L1325.30,174.87 L1324.23,175.53 L1323.07,176.01 L1321.85,176.30 L1320.60,176.40 L1319.50,176.40 L1318.39,176.40 L1317.29,176.40 L1316.19,176.40 L1315.09,176.40 L1313.98,176.40 L1312.88,176.40 L1311.78,176.40 L1310.68,176.40 L1309.57,176.40 L1308.47,176.40 L1307.37,176.40 L1306.27,176.40 L1305.16,176.40 L1304.06,176.40 L1302.96,176.40 L1301.86,176.40 L1300.75,176.40 L1299.65,176.40 L1298.55,176.40 L1297.45,176.40 L1296.35,176.40 L1295.24,176.40 L1294.14,176.40 L1293.04,176.40 L1291.93,176.40 L1290.83,176.40 L1289.73,176.40 L1288.63,176.40 L1287.53,176.40 L1286.42,176.40 L1285.32,176.40 L1284.22,176.40 L1283.12,176.40 L1282.01,176.40 L1280.91,176.40 L1279.81,176.40 L1278.70,176.40 L1277.60,176.40 L1276.50,176.40 L1275.25,176.30 L1274.03,176.01 L1272.87,175.53 L1271.80,174.87 L1270.84,174.06 L1270.03,173.10 L1269.37,172.03 L1268.89,170.87 L1268.60,169.65 L1268.50,168.40 L1268.50,168.00 L1268.50,167.60 L1268.50,167.20 L1268.50,166.80 L1268.50,166.40 L1268.50,166.00 L1268.50,165.60 L1268.50,165.20 L1268.50,164.80 L1268.50,164.40 L1268.50,164.00 L1268.50,163.60 L1268.50,163.20 L1268.50,162.80 L1268.50,162.40 L1268.50,162.00 L1268.50,161.60 L1268.50,161.20 L1268.50,160.80 L1268.50,160.40 L1268.50,160.00 L1268.50,159.60 L1268.50,159.20 L1268.50,158.80 L1268.50,158.40 L1268.50,158.00 L1268.50,157.60 L1268.50,157.20 L1268.50,156.80 L1268.50,156.40 L1268.50,156.00 L1268.50,155.60 L1268.50,155.20 L1268.50,154.80 L1268.50,154.40 L1268.50,154.00 L1268.50,153.60 L1254.40,136.00 Z" fill="#f4cccc" stroke="#df6464" stroke-width="1.9" stroke-linejoin="round" shape-rendering="geometricPrecision"/>
<text x="1278.2" y="164.0" font-family='"DejaVu Sans", Verdana, "Liberation Sans", sans-serif' font-size="12" font-weight="normal" fill="#222" text-anchor="start" textLength="39.5" lengthAdjust="spacingAndGlyphs">Supply</text>
<path d="M1394.00,128.50 L1396.06,128.50 L1398.12,128.50 L1400.19,128.50 L1402.25,128.50 L1404.31,128.50 L1406.38,128.50 L1408.44,128.50 L1410.50,128.50 L1412.56,128.50 L1414.62,128.50 L1416.69,128.50 L1418.75,128.50 L1420.81,128.50 L1422.88,128.50 L1424.94,128.50 L1427.00,128.50 L1428.25,128.60 L1429.47,128.89 L1430.63,129.37 L1431.70,130.03 L1432.66,130.84 L1433.47,131.80 L1434.13,132.87 L1434.61,134.03 L1434.90,135.25 L1435.00,136.50 L1435.00,137.20 L1435.00,137.90 L1435.00,138.60 L1435.00,139.30 L1435.00,140.00 L1435.00,140.70 L1435.00,141.40 L1435.00,142.10 L1435.00,142.80 L1435.00,143.50 L1435.00,144.20 L1435.00,144.90 L1435.00,145.60 L1435.00,146.30 L1435.00,147.00 L1435.00,147.70 L1435.00,148.40 L1435.00,149.10 L1435.00,149.80 L1435.00,150.50 L1435.00,151.20 L1435.00,151.90 L1435.00,152.60 L1435.00,153.30 L1435.00,154.00 L1435.00,154.70 L1435.00,155.40 L1435.00,156.10 L1435.00,156.80 L1435.00,157.50 L1435.00,158.20 L1435.00,158.90 L1435.00,159.60 L1435.00,160.30 L1435.00,161.00 L1435.00,161.70 L1435.00,162.40 L1435.00,163.10 L1435.00,163.80 L1435.00,164.50 L1434.90,165.75 L1434.61,166.97 L1434.13,168.13 L1433.47,169.20 L1432.66,170.16 L1431.70,170.97 L1430.63,171.63 L1429.47,172.11 L1428.25,172.40 L1427.00,172.50 L1424.94,172.50 L1422.88,172.50 L1420.81,172.50 L1418.75,172.50 L1416.69,172.50 L1414.62,172.50 L1412.56,172.50 L1410.50,172.50 L1408.44,172.50 L1406.38,172.50 L1404.31,172.50 L1402.25,172.50 L1400.19,172.50 L1398.12,172.50 L1396.06,172.50 L1394.00,172.50 L1391.94,172.50 L1389.88,172.50 L1387.81,172.50 L1385.75,172.50 L1383.69,172.50 L1381.62,172.50 L1379.56,172.50 L1377.50,172.50 L1375.44,172.50 L1373.38,172.50 L1371.31,172.50 L1369.25,172.50 L1367.19,172.50 L1365.12,172.50 L1363.06,172.50 L1361.00,172.50 L1358.94,172.50 L1356.88,172.50 L1354.81,172.50 L1352.75,172.50 L1350.69,172.50 L1348.62,172.50 L1346.56,172.50 L1344.50,172.50 L1343.25,172.40 L1342.03,172.11 L1340.87,171.63 L1339.80,170.97 L1338.84,170.16 L1338.03,169.20 L1337.37,168.13 L1336.89,166.97 L1336.60,165.75 L1336.50,164.50 L1336.50,163.80 L1336.50,163.10 L1336.50,162.40 L1336.50,161.70 L1336.50,161.00 L1336.50,160.30 L1336.50,159.60 L1336.50,158.90 L1336.50,158.20 L1336.50,157.50 L1336.50,156.80 L1336.50,156.10 L1336.50,155.40 L1336.50,154.70 L1336.50,154.00 L1336.50,153.30 L1336.50,152.60 L1336.50,151.90 L1336.50,151.20 L1336.50,150.50 L1336.50,149.80 L1336.50,149.10 L1336.50,148.40 L1336.50,147.70 L1336.50,147.00 L1336.50,146.30 L1336.50,145.60 L1336.50,144.90 L1336.50,144.20 L1336.50,143.50 L1336.50,142.80 L1336.50,142.10 L1336.50,141.40 L1336.50,140.70 L1336.50,140.00 L1336.50,139.30 L1336.50,138.60 L1336.50,137.90 L1336.50,137.20 L1336.50,136.50 L1336.60,135.25 L1336.89,134.03 L1337.37,132.87 L1338.03,131.80 L1338.84,130.84 L1339.80,130.03 L1340.87,129.37 L1342.03,128.89 L1343.25,128.60 L1344.50,128.50 L1346.56,128.50 L1348.62,128.50 L1350.69,128.50 L1352.75,128.50 L1354.81,128.50 L1356.88,128.50 L1358.94,128.50 L1361.00,128.50 L1363.06,128.50 L1365.12,128.50 L1367.19,128.50 L1369.25,128.50 L1371.31,128.50 L1373.38,128.50 L1375.44,128.50 L1377.50,128.50 L1382.40,112.70 Z" fill="#f4cccc" stroke="#e58383" stroke-width="1.6" stroke-linejoin="round" shape-rendering="geometricPrecision"/>
<text x="1347.2" y="148.0" font-family='"DejaVu Sans", Verdana, "Liberation Sans", sans-serif' font-size="12" font-weight="normal" fill="#222" text-anchor="start" textLength="70.6" lengthAdjust="spacingAndGlyphs">2017 Yearly</text>
<text x="1347.2" y="160.0" font-family='"DejaVu Sans", Verdana, "Liberation Sans", sans-serif' font-size="12" font-weight="normal" fill="#222" text-anchor="start" textLength="77.0" lengthAdjust="spacingAndGlyphs">opening level</text>
<path d="M809.88,132.50 L811.55,132.50 L813.23,132.50 L814.90,132.50 L816.58,132.50 L818.25,132.50 L819.92,132.50 L821.60,132.50 L823.27,132.50 L824.95,132.50 L826.62,132.50 L828.30,132.50 L829.98,132.50 L831.65,132.50 L833.33,132.50 L835.00,132.50 L836.25,132.60 L837.47,132.89 L838.63,133.37 L839.70,134.03 L840.66,134.84 L841.47,135.80 L842.13,136.87 L842.61,138.03 L842.90,139.25 L843.00,140.50 L843.00,140.90 L843.00,141.31 L843.00,141.71 L843.00,142.11 L843.00,142.51 L843.00,142.91 L843.00,143.32 L843.00,143.72 L843.00,144.12 L843.00,144.53 L843.00,144.93 L843.00,145.33 L843.00,145.73 L843.00,146.13 L843.00,146.54 L843.00,146.94 L843.00,147.34 L843.00,147.75 L843.00,148.15 L843.00,148.55 L843.00,148.95 L843.00,149.35 L843.00,149.76 L843.00,150.16 L843.00,150.56 L843.00,150.97 L843.00,151.37 L843.00,151.77 L843.00,152.17 L843.00,152.57 L843.00,152.98 L843.00,153.38 L843.00,153.78 L843.00,154.19 L843.00,154.59 L843.00,154.99 L843.00,155.39 L843.00,155.79 L843.00,156.20 L843.00,156.60 L842.90,157.85 L842.61,159.07 L842.13,160.23 L841.47,161.30 L840.66,162.26 L839.70,163.07 L838.63,163.73 L837.47,164.21 L836.25,164.50 L835.00,164.60 L833.33,164.60 L831.65,164.60 L829.98,164.60 L828.30,164.60 L826.62,164.60 L824.95,164.60 L823.27,164.60 L821.60,164.60 L819.92,164.60 L818.25,164.60 L816.58,164.60 L814.90,164.60 L813.23,164.60 L811.55,164.60 L809.88,164.60 L808.20,164.60 L806.52,164.60 L804.85,164.60 L803.17,164.60 L801.50,164.60 L799.83,164.60 L798.15,164.60 L796.48,164.60 L794.80,164.60 L793.12,164.60 L791.45,164.60 L789.77,164.60 L788.10,164.60 L786.42,164.60 L784.75,164.60 L783.08,164.60 L781.40,164.60 L779.73,164.60 L778.05,164.60 L776.38,164.60 L774.70,164.60 L773.02,164.60 L771.35,164.60 L769.67,164.60 L768.00,164.60 L766.75,164.50 L765.53,164.21 L764.37,163.73 L763.30,163.07 L762.34,162.26 L761.53,161.30 L760.87,160.23 L760.39,159.07 L760.10,157.85 L760.00,156.60 L760.00,156.20 L760.00,155.79 L760.00,155.39 L760.00,154.99 L760.00,154.59 L760.00,154.19 L760.00,153.78 L760.00,153.38 L760.00,152.98 L760.00,152.57 L760.00,152.17 L760.00,151.77 L760.00,151.37 L760.00,150.97 L760.00,150.56 L760.00,150.16 L760.00,149.76 L760.00,149.35 L760.00,148.95 L760.00,148.55 L760.00,148.15 L760.00,147.75 L760.00,147.34 L760.00,146.94 L760.00,146.54 L760.00,146.13 L760.00,145.73 L760.00,145.33 L760.00,144.93 L760.00,144.53 L760.00,144.12 L760.00,143.72 L760.00,143.32 L760.00,142.91 L760.00,142.51 L760.00,142.11 L760.00,141.71 L760.00,141.31 L760.00,140.90 L760.00,140.50 L760.10,139.25 L760.39,138.03 L760.87,136.87 L761.53,135.80 L762.34,134.84 L763.30,134.03 L764.37,133.37 L765.53,132.89 L766.75,132.60 L768.00,132.50 L769.67,132.50 L771.35,132.50 L773.02,132.50 L774.70,132.50 L776.38,132.50 L778.05,132.50 L779.73,132.50 L781.40,132.50 L783.08,132.50 L784.75,132.50 L786.42,132.50 L788.10,132.50 L789.77,132.50 L791.45,132.50 L793.12,132.50 L801.50,121.60 Z" fill="#f4cccc" stroke="#e58383" stroke-width="1.6" stroke-linejoin="round" shape-rendering="geometricPrecision"/>
<text x="770.3" y="152.4" font-family='"DejaVu Sans", Verdana, "Liberation Sans", sans-serif' font-size="12" font-weight="normal" fill="#222" text-anchor="start" textLength="63.0" lengthAdjust="spacingAndGlyphs">Resistance</text>
<text x="752.3" y="356.5" font-family='"Liberation Sans", Arial, sans-serif' font-size="13" font-weight="bold" fill="#000" text-anchor="start" textLength="80.6" lengthAdjust="spacingAndGlyphs">FX:USDJPY, D</text>
<text x="838.3" y="356.5" font-family='"Liberation Sans", Arial, sans-serif' font-size="13" font-weight="normal" fill="#000" text-anchor="start" textLength="46.4" lengthAdjust="spacingAndGlyphs">113.846</text>
<path d="M887.8,348 h11.6 l-5.8,10.8 Z" fill="#a80000" shape-rendering="geometricPrecision"/>
<text x="902.2" y="356.5" font-family='"Liberation Sans", Arial, sans-serif' font-size="13" font-weight="normal" fill="#000" text-anchor="start" textLength="96.0" lengthAdjust="spacingAndGlyphs">−0.004 (−0.01%)</text>
<text x="1002.4" y="356.5" font-family='"Liberation Sans", Arial, sans-serif' font-size="13" font-weight="bold" fill="#000" text-anchor="start" textLength="13.2" lengthAdjust="spacingAndGlyphs">O:</text>
<text x="1016.8" y="356.5" font-family='"Liberation Sans", Arial, sans-serif' font-size="13" font-weight="normal" fill="#b00c0c" text-anchor="start" textLength="46.4" lengthAdjust="spacingAndGlyphs">113.850</text>
<text x="1068.6" y="356.5" font-family='"Liberation Sans", Arial, sans-serif' font-size="13" font-weight="bold" fill="#000" text-anchor="start" textLength="12.0" lengthAdjust="spacingAndGlyphs">H:</text>
<text x="1081.8" y="356.5" font-family='"Liberation Sans", Arial, sans-serif' font-size="13" font-weight="normal" fill="#b00c0c" text-anchor="start" textLength="46.4" lengthAdjust="spacingAndGlyphs">113.895</text>
<text x="1133.3" y="356.5" font-family='"Liberation Sans", Arial, sans-serif' font-size="13" font-weight="bold" fill="#000" text-anchor="start" textLength="9.4" lengthAdjust="spacingAndGlyphs">L:</text>
<text x="1144.0" y="356.5" font-family='"Liberation Sans", Arial, sans-serif' font-size="13" font-weight="normal" fill="#b00c0c" text-anchor="start" textLength="46.4" lengthAdjust="spacingAndGlyphs">113.747</text>
<text x="1193.7" y="356.5" font-family='"Liberation Sans", Arial, sans-serif' font-size="13" font-weight="bold" fill="#000" text-anchor="start" textLength="11.0" lengthAdjust="spacingAndGlyphs">C:</text>
<text x="1205.9" y="356.5" font-family='"Liberation Sans", Arial, sans-serif' font-size="13" font-weight="normal" fill="#b00c0c" text-anchor="start" textLength="46.4" lengthAdjust="spacingAndGlyphs">113.846</text>
<rect x="751" y="365" width="745" height="337" fill="#f9fbfc" stroke="none" stroke-width="1"/>
<rect x="752.5" y="366.5" width="742" height="334" fill="#ffffff" stroke="#555555" stroke-width="1"/>
<line x1="1444.5" y1="366" x2="1444.5" y2="682" stroke="#555555" stroke-width="1"/>
<line x1="752" y1="681.5" x2="1445" y2="681.5" stroke="#555555" stroke-width="1"/>
<rect x="1445" y="393" width="3" height="1" fill="#555555" stroke="none" stroke-width="1"/>
<text x="1451.6" y="397.5" font-family='"Liberation Sans", Arial, sans-serif' font-size="11" font-weight="normal" fill="#505050" text-anchor="start" textLength="37.2" lengthAdjust="spacingAndGlyphs" stroke="#555" stroke-width="0.25">118.000</text>
<rect x="1445" y="425" width="3" height="1" fill="#555555" stroke="none" stroke-width="1"/>
<text x="1451.6" y="429.5" font-family='"Liberation Sans", Arial, sans-serif' font-size="11" font-weight="normal" fill="#505050" text-anchor="start" textLength="37.2" lengthAdjust="spacingAndGlyphs" stroke="#555" stroke-width="0.25">116.000</text>
<rect x="1445" y="457" width="3" height="1" fill="#555555" stroke="none" stroke-width="1"/>
<text x="1451.6" y="461.5" font-family='"Liberation Sans", Arial, sans-serif' font-size="11" font-weight="normal" fill="#505050" text-anchor="start" textLength="37.2" lengthAdjust="spacingAndGlyphs" stroke="#555" stroke-width="0.25">114.000</text>
<rect x="1445" y="490" width="3" height="1" fill="#555555" stroke="none" stroke-width="1"/>
<text x="1451.6" y="494.5" font-family='"Liberation Sans", Arial, sans-serif' font-size="11" font-weight="normal" fill="#505050" text-anchor="start" textLength="37.2" lengthAdjust="spacingAndGlyphs" stroke="#555" stroke-width="0.25">112.000</text>
<rect x="1445" y="522" width="3" height="1" fill="#555555" stroke="none" stroke-width="1"/>
<text x="1451.6" y="526.5" font-family='"Liberation Sans", Arial, sans-serif' font-size="11" font-weight="normal" fill="#505050" text-anchor="start" textLength="37.2" lengthAdjust="spacingAndGlyphs" stroke="#555" stroke-width="0.25">110.000</text>
<rect x="1445" y="554" width="3" height="1" fill="#555555" stroke="none" stroke-width="1"/>
<text x="1451.6" y="558.5" font-family='"Liberation Sans", Arial, sans-serif' font-size="11" font-weight="normal" fill="#505050" text-anchor="start" textLength="37.2" lengthAdjust="spacingAndGlyphs" stroke="#555" stroke-width="0.25">108.000</text>
<rect x="1445" y="586" width="3" height="1" fill="#555555" stroke="none" stroke-width="1"/>
<text x="1451.6" y="590.5" font-family='"Liberation Sans", Arial, sans-serif' font-size="11" font-weight="normal" fill="#505050" text-anchor="start" textLength="37.2" lengthAdjust="spacingAndGlyphs" stroke="#555" stroke-width="0.25">106.000</text>
<rect x="1445" y="618" width="3" height="1" fill="#555555" stroke="none" stroke-width="1"/>
<text x="1451.6" y="622.5" font-family='"Liberation Sans", Arial, sans-serif' font-size="11" font-weight="normal" fill="#505050" text-anchor="start" textLength="37.2" lengthAdjust="spacingAndGlyphs" stroke="#555" stroke-width="0.25">104.000</text>
<rect x="1445" y="650" width="3" height="1" fill="#555555" stroke="none" stroke-width="1"/>
<text x="1451.6" y="654.5" font-family='"Liberation Sans", Arial, sans-serif' font-size="11" font-weight="normal" fill="#505050" text-anchor="start" textLength="37.2" lengthAdjust="spacingAndGlyphs" stroke="#555" stroke-width="0.25">102.000</text>
<text x="761.5" y="387.8" font-family='"Liberation Sans", Arial, sans-serif' font-size="12.6" font-weight="bold" fill="#555" text-anchor="start" textLength="166.5" lengthAdjust="spacing">U.S. Dollar/Japanese Yen, D</text>
<rect x="889.5" y="432.5" width="380" height="16" fill="none" stroke="#333" stroke-width="1"/>
<rect x="806.5" y="484.5" width="463" height="16" fill="none" stroke="#333" stroke-width="1"/>
<path d="M753.5,628V643M757.5,630V638M760.5,609V624M763.5,600V614M767.5,589V664M770.5,572V604M773.5,572V587M777.5,546V575M780.5,533V559M783.5,527V542M787.5,520V546M790.5,508V526M793.5,501V516M797.5,501V519M800.5,475V509M803.5,466V485M807.5,460V482M810.5,475V500M813.5,469V497M817.5,450V490M820.5,445V461M823.5,455V469M827.5,446V477M830.5,455V466M833.5,452V468M837.5,452V473M840.5,437V459M843.5,424V445M847.5,435V447M850.5,404V446M853.5,383V411M857.5,388V403M860.5,395V418M863.5,390V411M867.5,393V409M870.5,396V406M873.5,401V408M877.5,400V410M880.5,397V409M883.5,406V423M887.5,407V426M890.5,384V412M893.5,391V408M897.5,403V439M900.5,407V441M903.5,402V427M907.5,421V439M910.5,412V455M913.5,434V462M917.5,435V456M920.5,452V465M923.5,454V482M927.5,446V482M930.5,432V452M933.5,436V455M937.5,452V480M940.5,460V482M943.5,459V474M947.5,445V474M950.5,436V452M953.5,443V467M957.5,459V489M960.5,459V480M963.5,469V490M967.5,467V486M970.5,478V497M973.5,481V497M977.5,482V497M980.5,469V495M983.5,461V477M987.5,456V468M990.5,450V471M993.5,443V461M997.5,454V473M1000.5,467V481M1003.5,471V478M1007.5,462V474M1010.5,463V476M1013.5,467V482M1017.5,475V492M1020.5,477V492M1023.5,476V496M1027.5,458V480M1030.5,448V464M1033.5,447V462M1036.5,456V466M1040.5,456V463M1043.5,446V465M1046.5,442V453M1050.5,434V448M1053.5,444V451M1056.5,439V450M1060.5,444V472M1063.5,466V476M1066.5,467V482M1070.5,476V483M1073.5,477V499M1076.5,494V511M1080.5,497V513M1083.5,499V513M1086.5,506V521M1090.5,504V520M1093.5,502V511M1096.5,492V508M1100.5,487V502M1103.5,497V509M1106.5,507V519M1110.5,499V514M1113.5,504V518M1116.5,501V521M1120.5,497V509M1123.5,508V530M1126.5,525V540M1130.5,533V543M1133.5,535V547M1136.5,538V552M1140.5,535V550M1143.5,538V549M1146.5,531V543M1150.5,532V541M1153.5,514V528M1156.5,504V529M1160.5,494V509M1163.5,497V507M1166.5,495V506M1170.5,492V504M1173.5,486V494M1176.5,478V492M1180.5,474V486M1183.5,478V489M1186.5,470V484M1190.5,453V472M1193.5,453V465M1196.5,453V467M1200.5,460V463" stroke="#737375" stroke-width="1" fill="none"/>
<path d="M756,634h3V637h-3ZM759,612h3V619h-3ZM762,601h3V613h-3ZM766,593h3V602h-3ZM769,574h3V594h-3ZM776,548h3V574h-3ZM779,536h3V549h-3ZM786,521h3V539h-3ZM789,509h3V522h-3ZM796,505h3V511h-3ZM799,483h3V506h-3ZM802,470h3V484h-3ZM812,485h3V493h-3ZM816,452h3V486h-3ZM826,462h3V471h-3ZM829,459h3V463h-3ZM836,458h3V464h-3ZM839,440h3V459h-3ZM846,440h3V443h-3ZM849,410h3V441h-3ZM852,392h3V411h-3ZM862,397h3V410h-3ZM876,404h3V407h-3ZM886,411h3V419h-3ZM889,399h3V412h-3ZM899,412h3V438h-3ZM926,448h3V482h-3ZM929,445h3V449h-3ZM939,462h3V480h-3ZM946,450h3V471h-3ZM949,441h3V451h-3ZM959,471h3V479h-3ZM972,485h3V496h-3ZM979,471h3V493h-3ZM986,463h3V467h-3ZM989,454h3V464h-3ZM1002,473h3V478h-3ZM1006,464h3V474h-3ZM1019,480h3V490h-3ZM1022,479h3V481h-3ZM1026,463h3V480h-3ZM1029,452h3V464h-3ZM1035,460h3V462h-3ZM1039,459h3V461h-3ZM1042,452h3V460h-3ZM1045,444h3V453h-3ZM1052,444h3V448h-3ZM1082,502h3V509h-3ZM1089,505h3V513h-3ZM1095,492h3V507h-3ZM1112,510h3V513h-3ZM1115,506h3V511h-3ZM1129,537h3V540h-3ZM1135,540h3V545h-3ZM1142,541h3V549h-3ZM1145,534h3V542h-3ZM1155,505h3V528h-3ZM1162,503h3V507h-3ZM1165,499h3V504h-3ZM1169,493h3V504h-3ZM1172,491h3V494h-3ZM1175,479h3V492h-3ZM1182,480h3V484h-3ZM1185,471h3V477h-3ZM1189,459h3V472h-3ZM1192,454h3V460h-3Z" fill="#0000ff"/>
<path d="M752,631h3V637h-3ZM772,574h3V579h-3ZM782,536h3V539h-3ZM792,508h3V511h-3ZM806,470h3V473h-3ZM809,479h3V493h-3ZM819,452h3V459h-3ZM822,458h3V468h-3ZM832,459h3V464h-3ZM842,436h3V443h-3ZM856,392h3V397h-3ZM859,395h3V410h-3ZM866,397h3V403h-3ZM869,402h3V403h-3ZM872,402h3V407h-3ZM879,404h3V407h-3ZM882,406h3V419h-3ZM892,399h3V408h-3ZM896,407h3V438h-3ZM902,410h3V427h-3ZM906,426h3V431h-3ZM909,430h3V437h-3ZM912,436h3V448h-3ZM916,447h3V453h-3ZM919,453h3V457h-3ZM922,456h3V482h-3ZM932,445h3V450h-3ZM936,455h3V480h-3ZM942,462h3V471h-3ZM952,447h3V464h-3ZM956,463h3V479h-3ZM962,471h3V479h-3ZM966,478h3V483h-3ZM969,484h3V496h-3ZM976,485h3V493h-3ZM982,471h3V472h-3ZM992,454h3V458h-3ZM996,457h3V472h-3ZM999,471h3V477h-3ZM1009,464h3V471h-3ZM1012,470h3V482h-3ZM1016,481h3V489h-3ZM1032,452h3V459h-3ZM1049,444h3V447h-3ZM1055,444h3V448h-3ZM1059,447h3V470h-3ZM1062,469h3V471h-3ZM1065,470h3V481h-3ZM1069,480h3V483h-3ZM1072,482h3V496h-3ZM1075,495h3V505h-3ZM1079,504h3V509h-3ZM1085,509h3V513h-3ZM1092,505h3V507h-3ZM1099,492h3V502h-3ZM1102,500h3V509h-3ZM1105,508h3V512h-3ZM1109,511h3V513h-3ZM1119,506h3V509h-3ZM1122,508h3V530h-3ZM1125,529h3V540h-3ZM1132,537h3V547h-3ZM1139,540h3V549h-3ZM1149,534h3V541h-3ZM1152,514h3V528h-3ZM1159,505h3V507h-3ZM1179,479h3V484h-3ZM1195,454h3V462h-3ZM1199,461h3V462h-3Z" fill="#ff0000"/>
<rect x="753" y="557" width="516" height="11" fill="#fff" stroke="none" stroke-width="1" fill-opacity="0.45"/>
<rect x="752.5" y="556.5" width="517" height="12" fill="none" stroke="#333" stroke-width="1"/>
<rect x="1271.5" y="434.5" width="77" height="13" fill="#e1ebf3" stroke="#6c8aa8" stroke-width="1"/>
<text x="1273.3" y="445.1" font-family='"DejaVu Sans", Verdana, "Liberation Sans", sans-serif' font-size="9.6" font-weight="normal" fill="#000" text-anchor="start" textLength="72.0" lengthAdjust="spacingAndGlyphs">115.62-114.60</text>
<rect x="1271.5" y="488.5" width="77" height="13" fill="#e1ebf3" stroke="#6c8aa8" stroke-width="1"/>
<text x="1273.3" y="499.1" font-family='"DejaVu Sans", Verdana, "Liberation Sans", sans-serif' font-size="9.6" font-weight="normal" fill="#000" text-anchor="start" textLength="72.0" lengthAdjust="spacingAndGlyphs">111.35-112.37</text>
<rect x="1271.5" y="561.5" width="77" height="13" fill="#e1ebf3" stroke="#6c8aa8" stroke-width="1"/>
<text x="1273.3" y="572.1" font-family='"DejaVu Sans", Verdana, "Liberation Sans", sans-serif' font-size="9.6" font-weight="normal" fill="#000" text-anchor="start" textLength="72.0" lengthAdjust="spacingAndGlyphs">107.15-107.90</text>
<rect x="1444" y="453" width="50" height="16" fill="#ff0000" stroke="none" stroke-width="1"/>
<rect x="1444" y="460" width="3" height="1" fill="#fff" stroke="none" stroke-width="1"/>
<text x="1451.4" y="464.5" font-family='"Liberation Sans", Arial, sans-serif' font-size="11" font-weight="bold" fill="#fff" text-anchor="start" textLength="37.2" lengthAdjust="spacingAndGlyphs">113.846</text>
<rect x="890" y="682" width="1" height="3" fill="#555555" stroke="none" stroke-width="1"/>
<text x="890.5" y="696.0" font-family='"Liberation Sans", Arial, sans-serif' font-size="11" font-weight="bold" fill="#555" text-anchor="middle">2017</text>
<rect x="1027" y="682" width="1" height="3" fill="#555555" stroke="none" stroke-width="1"/>
<text x="1027.5" y="696.0" font-family='"Liberation Sans", Arial, sans-serif' font-size="11" font-weight="normal" fill="#555" text-anchor="middle">Mar</text>
<rect x="1103" y="682" width="1" height="3" fill="#555555" stroke="none" stroke-width="1"/>
<text x="1103.5" y="696.0" font-family='"Liberation Sans", Arial, sans-serif' font-size="11" font-weight="normal" fill="#555" text-anchor="middle">Apr</text>
<rect x="1246" y="682" width="1" height="3" fill="#555555" stroke="none" stroke-width="1"/>
<text x="1246.5" y="696.0" font-family='"Liberation Sans", Arial, sans-serif' font-size="11" font-weight="normal" fill="#555" text-anchor="middle">Jun</text>
<rect x="1390" y="682" width="1" height="3" fill="#555555" stroke="none" stroke-width="1"/>
<text x="1390.5" y="696.0" font-family='"Liberation Sans", Arial, sans-serif' font-size="11" font-weight="normal" fill="#555" text-anchor="middle">Aug</text>
<path d="M1307.20,413.38 L1307.20,412.67 L1307.20,411.96 L1307.20,411.25 L1307.20,410.54 L1307.20,409.83 L1307.20,409.12 L1307.20,408.41 L1307.20,407.70 L1307.20,406.99 L1307.20,406.28 L1307.20,405.57 L1307.20,404.86 L1307.20,404.15 L1307.20,403.44 L1307.20,402.73 L1307.20,402.02 L1307.20,401.31 L1307.20,400.60 L1307.20,399.89 L1307.20,399.18 L1307.20,398.47 L1307.20,397.76 L1307.20,397.05 L1307.20,396.34 L1307.20,395.63 L1307.20,394.92 L1307.20,394.21 L1307.20,393.50 L1307.20,392.79 L1307.20,392.08 L1307.20,391.37 L1307.20,390.66 L1307.20,389.95 L1307.20,389.24 L1307.20,388.53 L1307.20,387.82 L1307.20,387.11 L1307.20,386.40 L1307.30,385.15 L1307.59,383.93 L1308.07,382.77 L1308.73,381.70 L1309.54,380.74 L1310.50,379.93 L1311.57,379.27 L1312.73,378.79 L1313.95,378.50 L1315.20,378.40 L1316.88,378.40 L1318.56,378.40 L1320.23,378.40 L1321.91,378.40 L1323.59,378.40 L1325.27,378.40 L1326.94,378.40 L1328.62,378.40 L1330.30,378.40 L1331.97,378.40 L1333.65,378.40 L1335.33,378.40 L1337.01,378.40 L1338.68,378.40 L1340.36,378.40 L1342.04,378.40 L1343.72,378.40 L1345.39,378.40 L1347.07,378.40 L1348.75,378.40 L1350.43,378.40 L1352.11,378.40 L1353.78,378.40 L1355.46,378.40 L1357.14,378.40 L1358.82,378.40 L1360.49,378.40 L1362.17,378.40 L1363.85,378.40 L1365.53,378.40 L1367.20,378.40 L1368.88,378.40 L1370.56,378.40 L1372.23,378.40 L1373.91,378.40 L1375.59,378.40 L1377.27,378.40 L1378.94,378.40 L1380.62,378.40 L1382.30,378.40 L1383.55,378.50 L1384.77,378.79 L1385.93,379.27 L1387.00,379.93 L1387.96,380.74 L1388.77,381.70 L1389.43,382.77 L1389.91,383.93 L1390.20,385.15 L1390.30,386.40 L1390.30,387.11 L1390.30,387.82 L1390.30,388.53 L1390.30,389.24 L1390.30,389.95 L1390.30,390.66 L1390.30,391.37 L1390.30,392.08 L1390.30,392.79 L1390.30,393.50 L1390.30,394.21 L1390.30,394.92 L1390.30,395.63 L1390.30,396.34 L1390.30,397.05 L1390.30,397.76 L1390.30,398.47 L1390.30,399.18 L1390.30,399.89 L1390.30,400.60 L1390.30,401.31 L1390.30,402.02 L1390.30,402.73 L1390.30,403.44 L1390.30,404.15 L1390.30,404.86 L1390.30,405.57 L1390.30,406.28 L1390.30,406.99 L1390.30,407.70 L1390.30,408.41 L1390.30,409.12 L1390.30,409.83 L1390.30,410.54 L1390.30,411.25 L1390.30,411.96 L1390.30,412.67 L1390.30,413.38 L1390.30,414.09 L1390.30,414.80 L1390.20,416.05 L1389.91,417.27 L1389.43,418.43 L1388.77,419.50 L1387.96,420.46 L1387.00,421.27 L1385.93,421.93 L1384.77,422.41 L1383.55,422.70 L1382.30,422.80 L1380.62,422.80 L1378.94,422.80 L1377.27,422.80 L1375.59,422.80 L1373.91,422.80 L1372.23,422.80 L1370.56,422.80 L1368.88,422.80 L1367.20,422.80 L1365.53,422.80 L1363.85,422.80 L1362.17,422.80 L1360.49,422.80 L1358.82,422.80 L1357.14,422.80 L1355.46,422.80 L1353.78,422.80 L1352.11,422.80 L1350.43,422.80 L1348.75,422.80 L1347.07,422.80 L1345.39,422.80 L1343.72,422.80 L1342.04,422.80 L1340.36,422.80 L1338.68,422.80 L1337.01,422.80 L1335.33,422.80 L1333.65,422.80 L1331.97,422.80 L1330.30,422.80 L1328.62,422.80 L1326.94,422.80 L1325.27,422.80 L1323.59,422.80 L1321.91,422.80 L1320.23,422.80 L1318.56,422.80 L1316.88,422.80 L1315.20,422.80 L1304.70,435.00 Z" fill="#f4cccc" stroke="#e58383" stroke-width="1.6" stroke-linejoin="round" shape-rendering="geometricPrecision"/>
<text x="1317.2" y="398.2" font-family='"DejaVu Sans", Verdana, "Liberation Sans", sans-serif' font-size="12" font-weight="normal" fill="#222" text-anchor="start" textLength="63.0" lengthAdjust="spacingAndGlyphs">Resistance</text>
<text x="1317.2" y="410.2" font-family='"DejaVu Sans", Verdana, "Liberation Sans", sans-serif' font-size="12" font-weight="normal" fill="#222" text-anchor="start" textLength="26.0" lengthAdjust="spacingAndGlyphs">area</text>
<path d="M1360.00,508.00 L1361.29,508.00 L1362.58,508.00 L1363.86,508.00 L1365.15,508.00 L1366.44,508.00 L1367.72,508.00 L1369.01,508.00 L1370.30,508.00 L1371.59,508.00 L1372.88,508.00 L1374.16,508.00 L1375.45,508.00 L1376.74,508.00 L1378.03,508.00 L1379.31,508.00 L1380.60,508.00 L1381.89,508.00 L1383.17,508.00 L1384.46,508.00 L1385.75,508.00 L1387.04,508.00 L1388.33,508.00 L1389.61,508.00 L1390.90,508.00 L1392.19,508.00 L1393.47,508.00 L1394.76,508.00 L1396.05,508.00 L1397.34,508.00 L1398.62,508.00 L1399.91,508.00 L1401.20,508.00 L1402.49,508.00 L1403.78,508.00 L1405.06,508.00 L1406.35,508.00 L1407.64,508.00 L1408.92,508.00 L1410.21,508.00 L1411.50,508.00 L1412.75,508.10 L1413.97,508.39 L1415.13,508.87 L1416.20,509.53 L1417.16,510.34 L1417.97,511.30 L1418.63,512.37 L1419.11,513.53 L1419.40,514.75 L1419.50,516.00 L1419.50,516.71 L1419.50,517.42 L1419.50,518.14 L1419.50,518.85 L1419.50,519.56 L1419.50,520.27 L1419.50,520.99 L1419.50,521.70 L1419.50,522.41 L1419.50,523.12 L1419.50,523.84 L1419.50,524.55 L1419.50,525.26 L1419.50,525.98 L1419.50,526.69 L1419.50,527.40 L1419.50,528.11 L1419.50,528.83 L1419.50,529.54 L1419.50,530.25 L1419.50,530.96 L1419.50,531.67 L1419.50,532.39 L1419.50,533.10 L1419.50,533.81 L1419.50,534.52 L1419.50,535.24 L1419.50,535.95 L1419.50,536.66 L1419.50,537.38 L1419.50,538.09 L1419.50,538.80 L1419.50,539.51 L1419.50,540.23 L1419.50,540.94 L1419.50,541.65 L1419.50,542.36 L1419.50,543.08 L1419.50,543.79 L1419.50,544.50 L1419.40,545.75 L1419.11,546.97 L1418.63,548.13 L1417.97,549.20 L1417.16,550.16 L1416.20,550.97 L1415.13,551.63 L1413.97,552.11 L1412.75,552.40 L1411.50,552.50 L1410.21,552.50 L1408.92,552.50 L1407.64,552.50 L1406.35,552.50 L1405.06,552.50 L1403.78,552.50 L1402.49,552.50 L1401.20,552.50 L1399.91,552.50 L1398.62,552.50 L1397.34,552.50 L1396.05,552.50 L1394.76,552.50 L1393.47,552.50 L1392.19,552.50 L1390.90,552.50 L1389.61,552.50 L1388.33,552.50 L1387.04,552.50 L1385.75,552.50 L1384.46,552.50 L1383.17,552.50 L1381.89,552.50 L1380.60,552.50 L1379.31,552.50 L1378.03,552.50 L1376.74,552.50 L1375.45,552.50 L1374.16,552.50 L1372.88,552.50 L1371.59,552.50 L1370.30,552.50 L1369.01,552.50 L1367.72,552.50 L1366.44,552.50 L1365.15,552.50 L1363.86,552.50 L1362.58,552.50 L1361.29,552.50 L1360.00,552.50 L1358.75,552.40 L1357.53,552.11 L1356.37,551.63 L1355.30,550.97 L1354.34,550.16 L1353.53,549.20 L1352.87,548.13 L1352.39,546.97 L1352.10,545.75 L1352.00,544.50 L1352.00,543.79 L1352.00,543.08 L1352.00,542.36 L1352.00,541.65 L1352.00,540.94 L1352.00,540.23 L1352.00,539.51 L1352.00,538.80 L1352.00,538.09 L1352.00,537.38 L1352.00,536.66 L1352.00,535.95 L1352.00,535.24 L1352.00,534.52 L1352.00,533.81 L1352.00,533.10 L1352.00,532.39 L1352.00,531.67 L1352.00,530.96 L1352.00,530.25 L1352.00,529.54 L1352.00,528.83 L1352.00,528.11 L1352.00,527.40 L1352.00,526.69 L1352.00,525.98 L1352.00,525.26 L1352.00,524.55 L1352.00,523.84 L1352.00,523.12 L1352.00,522.41 L1352.00,521.70 L1352.00,520.99 L1352.00,520.27 L1352.00,519.56 L1352.00,518.85 L1352.00,518.14 L1328.50,503.50 Z" fill="#f4cccc" stroke="#e58383" stroke-width="1.6" stroke-linejoin="round" shape-rendering="geometricPrecision"/>
<text x="1362.0" y="528.0" font-family='"DejaVu Sans", Verdana, "Liberation Sans", sans-serif' font-size="12" font-weight="normal" fill="#222" text-anchor="start" textLength="46.5" lengthAdjust="spacingAndGlyphs">Support</text>
<text x="1362.0" y="540.0" font-family='"DejaVu Sans", Verdana, "Liberation Sans", sans-serif' font-size="12" font-weight="normal" fill="#222" text-anchor="start" textLength="26.0" lengthAdjust="spacingAndGlyphs">area</text>
<path d="M1361.29,590.00 L1362.58,590.00 L1363.86,590.00 L1365.15,590.00 L1366.44,590.00 L1367.72,590.00 L1369.01,590.00 L1370.30,590.00 L1371.59,590.00 L1372.88,590.00 L1374.16,590.00 L1375.45,590.00 L1376.74,590.00 L1378.03,590.00 L1379.31,590.00 L1380.60,590.00 L1381.89,590.00 L1383.17,590.00 L1384.46,590.00 L1385.75,590.00 L1387.04,590.00 L1388.33,590.00 L1389.61,590.00 L1390.90,590.00 L1392.19,590.00 L1393.47,590.00 L1394.76,590.00 L1396.05,590.00 L1397.34,590.00 L1398.62,590.00 L1399.91,590.00 L1401.20,590.00 L1402.49,590.00 L1403.78,590.00 L1405.06,590.00 L1406.35,590.00 L1407.64,590.00 L1408.92,590.00 L1410.21,590.00 L1411.50,590.00 L1412.75,590.10 L1413.97,590.39 L1415.13,590.87 L1416.20,591.53 L1417.16,592.34 L1417.97,593.30 L1418.63,594.37 L1419.11,595.53 L1419.40,596.75 L1419.50,598.00 L1419.50,598.72 L1419.50,599.43 L1419.50,600.15 L1419.50,600.87 L1419.50,601.59 L1419.50,602.31 L1419.50,603.02 L1419.50,603.74 L1419.50,604.46 L1419.50,605.17 L1419.50,605.89 L1419.50,606.61 L1419.50,607.33 L1419.50,608.05 L1419.50,608.76 L1419.50,609.48 L1419.50,610.20 L1419.50,610.91 L1419.50,611.63 L1419.50,612.35 L1419.50,613.07 L1419.50,613.79 L1419.50,614.50 L1419.50,615.22 L1419.50,615.94 L1419.50,616.65 L1419.50,617.37 L1419.50,618.09 L1419.50,618.81 L1419.50,619.53 L1419.50,620.24 L1419.50,620.96 L1419.50,621.68 L1419.50,622.39 L1419.50,623.11 L1419.50,623.83 L1419.50,624.55 L1419.50,625.27 L1419.50,625.98 L1419.50,626.70 L1419.40,627.95 L1419.11,629.17 L1418.63,630.33 L1417.97,631.40 L1417.16,632.36 L1416.20,633.17 L1415.13,633.83 L1413.97,634.31 L1412.75,634.60 L1411.50,634.70 L1410.21,634.70 L1408.92,634.70 L1407.64,634.70 L1406.35,634.70 L1405.06,634.70 L1403.78,634.70 L1402.49,634.70 L1401.20,634.70 L1399.91,634.70 L1398.62,634.70 L1397.34,634.70 L1396.05,634.70 L1394.76,634.70 L1393.47,634.70 L1392.19,634.70 L1390.90,634.70 L1389.61,634.70 L1388.33,634.70 L1387.04,634.70 L1385.75,634.70 L1384.46,634.70 L1383.17,634.70 L1381.89,634.70 L1380.60,634.70 L1379.31,634.70 L1378.03,634.70 L1376.74,634.70 L1375.45,634.70 L1374.16,634.70 L1372.88,634.70 L1371.59,634.70 L1370.30,634.70 L1369.01,634.70 L1367.72,634.70 L1366.44,634.70 L1365.15,634.70 L1363.86,634.70 L1362.58,634.70 L1361.29,634.70 L1360.00,634.70 L1358.75,634.60 L1357.53,634.31 L1356.37,633.83 L1355.30,633.17 L1354.34,632.36 L1353.53,631.40 L1352.87,630.33 L1352.39,629.17 L1352.10,627.95 L1352.00,626.70 L1352.00,625.98 L1352.00,625.27 L1352.00,624.55 L1352.00,623.83 L1352.00,623.11 L1352.00,622.39 L1352.00,621.68 L1352.00,620.96 L1352.00,620.24 L1352.00,619.53 L1352.00,618.81 L1352.00,618.09 L1352.00,617.37 L1352.00,616.65 L1352.00,615.94 L1352.00,615.22 L1352.00,614.50 L1352.00,613.79 L1352.00,613.07 L1352.00,612.35 L1352.00,611.63 L1352.00,610.91 L1352.00,610.20 L1352.00,609.48 L1352.00,608.76 L1352.00,608.05 L1352.00,607.33 L1352.00,606.61 L1352.00,605.89 L1352.00,605.17 L1352.00,604.46 L1352.00,603.74 L1352.00,603.02 L1352.00,602.31 L1344.00,581.50 Z" fill="#f4cccc" stroke="#e58383" stroke-width="1.6" stroke-linejoin="round" shape-rendering="geometricPrecision"/>
<text x="1362.0" y="610.0" font-family='"DejaVu Sans", Verdana, "Liberation Sans", sans-serif' font-size="12" font-weight="normal" fill="#222" text-anchor="start" textLength="46.5" lengthAdjust="spacingAndGlyphs">Support</text>
<text x="1362.0" y="622.0" font-family='"DejaVu Sans", Verdana, "Liberation Sans", sans-serif' font-size="12" font-weight="normal" fill="#222" text-anchor="start" textLength="26.0" lengthAdjust="spacingAndGlyphs">area</text>
</svg>
</body>
</html>
